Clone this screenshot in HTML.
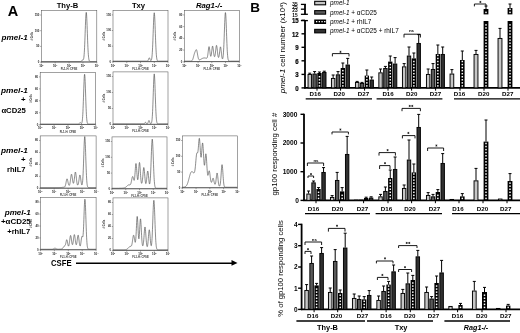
<!DOCTYPE html><html><head><meta charset="utf-8"><style>html,body{margin:0;padding:0;background:#fff}svg{display:block;filter:grayscale(1) blur(0.3px);font-family:"Liberation Sans",sans-serif}</style></head><body>
<svg width="520" height="333" viewBox="0 0 520 333">
<defs><pattern id="pdot" width="2.4" height="2.4" patternUnits="userSpaceOnUse"><rect width="2.4" height="2.4" fill="#000"/><rect x="0.6" y="0.6" width="1.2" height="1.2" fill="#fff"/></pattern></defs>
<rect width="520" height="333" fill="#fff"/>
<rect x="41.30" y="10.40" width="55.50" height="51.70" fill="none" stroke="#555" stroke-width="0.55"/>
<path d="M41.30,61.48 L41.44,61.48 L41.58,61.48 L41.72,61.48 L41.85,61.48 L41.99,61.48 L42.13,61.48 L42.27,61.48 L42.41,61.48 L42.55,61.48 L42.69,61.48 L42.83,61.48 L42.96,61.48 L43.10,61.48 L43.24,61.48 L43.38,61.48 L43.52,61.48 L43.66,61.48 L43.80,61.48 L43.94,61.48 L44.07,61.48 L44.21,61.48 L44.35,61.48 L44.49,61.48 L44.63,61.48 L44.77,61.48 L44.91,61.48 L45.05,61.48 L45.18,61.48 L45.32,61.48 L45.46,61.48 L45.60,61.48 L45.74,61.48 L45.88,61.48 L46.02,61.48 L46.16,61.48 L46.29,61.48 L46.43,61.48 L46.57,61.48 L46.71,61.48 L46.85,61.48 L46.99,61.48 L47.13,61.48 L47.27,61.48 L47.41,61.48 L47.54,61.48 L47.68,61.48 L47.82,61.48 L47.96,61.48 L48.10,61.48 L48.24,61.48 L48.38,61.48 L48.52,61.48 L48.65,61.48 L48.79,61.48 L48.93,61.48 L49.07,61.48 L49.21,61.48 L49.35,61.48 L49.49,61.48 L49.62,61.48 L49.76,61.48 L49.90,61.48 L50.04,61.48 L50.18,61.48 L50.32,61.48 L50.46,61.48 L50.60,61.48 L50.73,61.48 L50.87,61.48 L51.01,61.48 L51.15,61.48 L51.29,61.48 L51.43,61.48 L51.57,61.48 L51.71,61.48 L51.84,61.48 L51.98,61.48 L52.12,61.48 L52.26,61.48 L52.40,61.48 L52.54,61.48 L52.68,61.48 L52.82,61.48 L52.95,61.48 L53.09,61.48 L53.23,61.48 L53.37,61.48 L53.51,61.48 L53.65,61.48 L53.79,61.48 L53.93,61.48 L54.06,61.48 L54.20,61.48 L54.34,61.48 L54.48,61.48 L54.62,61.48 L54.76,61.48 L54.90,61.48 L55.04,61.48 L55.17,61.48 L55.31,61.48 L55.45,61.48 L55.59,61.48 L55.73,61.48 L55.87,61.48 L56.01,61.48 L56.15,61.48 L56.28,61.48 L56.42,61.48 L56.56,61.48 L56.70,61.48 L56.84,61.48 L56.98,61.48 L57.12,61.48 L57.26,61.48 L57.39,61.48 L57.53,61.48 L57.67,61.48 L57.81,61.48 L57.95,61.48 L58.09,61.48 L58.23,61.48 L58.37,61.48 L58.50,61.48 L58.64,61.48 L58.78,61.48 L58.92,61.48 L59.06,61.48 L59.20,61.48 L59.34,61.48 L59.48,61.48 L59.61,61.48 L59.75,61.48 L59.89,61.48 L60.03,61.48 L60.17,61.48 L60.31,61.48 L60.45,61.48 L60.59,61.48 L60.72,61.48 L60.86,61.48 L61.00,61.48 L61.14,61.48 L61.28,61.48 L61.42,61.48 L61.56,61.48 L61.70,61.48 L61.83,61.48 L61.97,61.48 L62.11,61.48 L62.25,61.48 L62.39,61.48 L62.53,61.48 L62.67,61.48 L62.81,61.48 L62.94,61.48 L63.08,61.48 L63.22,61.48 L63.36,61.48 L63.50,61.48 L63.64,61.48 L63.78,61.48 L63.92,61.48 L64.05,61.48 L64.19,61.48 L64.33,61.48 L64.47,61.48 L64.61,61.48 L64.75,61.48 L64.89,61.48 L65.03,61.48 L65.16,61.48 L65.30,61.48 L65.44,61.48 L65.58,61.48 L65.72,61.48 L65.86,61.48 L66.00,61.48 L66.14,61.48 L66.28,61.48 L66.41,61.48 L66.55,61.48 L66.69,61.48 L66.83,61.48 L66.97,61.48 L67.11,61.48 L67.25,61.48 L67.38,61.48 L67.52,61.48 L67.66,61.48 L67.80,61.48 L67.94,61.48 L68.08,61.48 L68.22,61.48 L68.36,61.48 L68.50,61.48 L68.63,61.48 L68.77,61.48 L68.91,61.48 L69.05,61.48 L69.19,61.48 L69.33,61.48 L69.47,61.48 L69.60,61.48 L69.74,61.48 L69.88,61.48 L70.02,61.48 L70.16,61.48 L70.30,61.48 L70.44,61.48 L70.58,61.48 L70.72,61.48 L70.85,61.48 L70.99,61.48 L71.13,61.48 L71.27,61.48 L71.41,61.48 L71.55,61.48 L71.69,61.48 L71.83,61.48 L71.96,61.48 L72.10,61.48 L72.24,61.48 L72.38,61.48 L72.52,61.48 L72.66,61.48 L72.80,61.48 L72.94,61.48 L73.07,61.48 L73.21,61.48 L73.35,61.48 L73.49,61.48 L73.63,61.48 L73.77,61.48 L73.91,61.48 L74.04,61.48 L74.18,61.48 L74.32,61.48 L74.46,61.48 L74.60,61.48 L74.74,61.48 L74.88,61.48 L75.02,61.48 L75.16,61.48 L75.29,61.48 L75.43,61.48 L75.57,61.48 L75.71,61.48 L75.85,61.48 L75.99,61.48 L76.13,61.48 L76.27,61.48 L76.40,61.48 L76.54,61.48 L76.68,61.48 L76.82,61.48 L76.96,61.48 L77.10,61.48 L77.24,61.48 L77.38,61.48 L77.51,61.48 L77.65,61.48 L77.79,61.48 L77.93,61.48 L78.07,61.48 L78.21,61.48 L78.35,61.48 L78.48,61.48 L78.62,61.48 L78.76,61.48 L78.90,61.48 L79.04,61.48 L79.18,61.48 L79.32,61.48 L79.46,61.48 L79.59,61.48 L79.73,61.48 L79.87,61.48 L80.01,61.48 L80.15,61.48 L80.29,61.48 L80.43,61.48 L80.57,61.47 L80.70,61.47 L80.84,61.46 L80.98,61.44 L81.12,61.41 L81.26,61.36 L81.40,61.29 L81.54,61.18 L81.68,61.04 L81.81,60.86 L81.95,60.65 L82.09,60.43 L82.23,60.22 L82.37,60.03 L82.51,59.88 L82.65,59.79 L82.79,59.75 L82.92,59.75 L83.06,59.75 L83.20,59.71 L83.34,59.59 L83.48,59.33 L83.62,58.88 L83.76,58.21 L83.90,57.26 L84.03,56.01 L84.17,54.41 L84.31,52.44 L84.45,50.09 L84.59,47.35 L84.73,44.24 L84.87,40.81 L85.01,37.12 L85.14,33.26 L85.28,29.34 L85.42,25.52 L85.56,21.92 L85.70,18.72 L85.84,16.05 L85.98,14.04 L86.12,12.79 L86.25,12.36 L86.39,12.79 L86.53,14.04 L86.67,16.05 L86.81,18.72 L86.95,21.92 L87.09,25.52 L87.23,29.34 L87.36,33.26 L87.50,37.12 L87.64,40.81 L87.78,44.25 L87.92,47.36 L88.06,50.11 L88.20,52.48 L88.34,54.48 L88.47,56.12 L88.61,57.45 L88.75,58.51 L88.89,59.32 L89.03,59.94 L89.17,60.40 L89.31,60.74 L89.45,60.98 L89.58,61.14 L89.72,61.26 L89.86,61.34 L90.00,61.39 L90.14,61.42 L90.28,61.45 L90.42,61.46 L90.56,61.47 L90.69,61.47 L90.83,61.48 L90.97,61.48 L91.11,61.48 L91.25,61.48 L91.39,61.48 L91.53,61.48 L91.67,61.48 L91.81,61.48 L91.94,61.48 L92.08,61.48 L92.22,61.48 L92.36,61.48 L92.50,61.48 L92.64,61.48 L92.78,61.48 L92.91,61.48 L93.05,61.48 L93.19,61.48 L93.33,61.48 L93.47,61.48 L93.61,61.48 L93.75,61.48 L93.89,61.48 L94.02,61.48 L94.16,61.48 L94.30,61.48 L94.44,61.48 L94.58,61.48 L94.72,61.48 L94.86,61.48 L95.00,61.48 L95.13,61.48 L95.27,61.48 L95.41,61.48 L95.55,61.48 L95.69,61.48 L95.83,61.48 L95.97,61.48 L96.11,61.48 L96.25,61.48 L96.38,61.48 L96.52,61.48 L96.66,61.48 L96.80,61.48" fill="none" stroke="#444" stroke-width="0.62" stroke-linejoin="round"/>
<line x1="41.30" y1="61.85" x2="96.80" y2="61.85" stroke="#555" stroke-width="0.8"/>
<line x1="41.30" y1="62.10" x2="41.30" y2="63.40" stroke="#555" stroke-width="0.5"/>
<text x="41.30" y="66.80" font-size="2.9" font-weight="bold" text-anchor="middle" fill="#222">10<tspan dy="-1" font-size="2">0</tspan></text>
<line x1="55.17" y1="62.10" x2="55.17" y2="63.40" stroke="#555" stroke-width="0.5"/>
<text x="55.17" y="66.80" font-size="2.9" font-weight="bold" text-anchor="middle" fill="#222">10<tspan dy="-1" font-size="2">1</tspan></text>
<line x1="69.05" y1="62.10" x2="69.05" y2="63.40" stroke="#555" stroke-width="0.5"/>
<text x="69.05" y="66.80" font-size="2.9" font-weight="bold" text-anchor="middle" fill="#222">10<tspan dy="-1" font-size="2">2</tspan></text>
<line x1="82.92" y1="62.10" x2="82.92" y2="63.40" stroke="#555" stroke-width="0.5"/>
<text x="82.92" y="66.80" font-size="2.9" font-weight="bold" text-anchor="middle" fill="#222">10<tspan dy="-1" font-size="2">3</tspan></text>
<line x1="96.80" y1="62.10" x2="96.80" y2="63.40" stroke="#555" stroke-width="0.5"/>
<text x="96.80" y="66.80" font-size="2.9" font-weight="bold" text-anchor="middle" fill="#222">10<tspan dy="-1" font-size="2">4</tspan></text>
<text x="69.05" y="69.90" font-size="2.7" font-weight="bold" text-anchor="middle" fill="#333">FL1-H: CFSE</text>
<line x1="40.10" y1="62.10" x2="41.30" y2="62.10" stroke="#555" stroke-width="0.5"/>
<text x="39.30" y="63.00" font-size="2.8" font-weight="bold" text-anchor="end" fill="#222">0</text>
<line x1="40.10" y1="46.40" x2="41.30" y2="46.40" stroke="#555" stroke-width="0.5"/>
<text x="39.30" y="47.30" font-size="2.8" font-weight="bold" text-anchor="end" fill="#222">50</text>
<line x1="40.10" y1="30.70" x2="41.30" y2="30.70" stroke="#555" stroke-width="0.5"/>
<text x="39.30" y="31.60" font-size="2.8" font-weight="bold" text-anchor="end" fill="#222">100</text>
<line x1="40.10" y1="15.00" x2="41.30" y2="15.00" stroke="#555" stroke-width="0.5"/>
<text x="39.30" y="15.90" font-size="2.8" font-weight="bold" text-anchor="end" fill="#222">150</text>
<text transform="translate(33.10,36.25) rotate(-90)" font-size="2.7" font-weight="bold" text-anchor="middle" fill="#333"># Cells</text>
<rect x="113.00" y="10.30" width="55.00" height="51.50" fill="none" stroke="#555" stroke-width="0.55"/>
<path d="M113.00,61.18 L113.14,61.18 L113.28,61.18 L113.41,61.18 L113.55,61.18 L113.69,61.18 L113.83,61.18 L113.96,61.18 L114.10,61.18 L114.24,61.18 L114.38,61.18 L114.51,61.18 L114.65,61.18 L114.79,61.18 L114.92,61.18 L115.06,61.18 L115.20,61.18 L115.34,61.18 L115.47,61.18 L115.61,61.18 L115.75,61.18 L115.89,61.18 L116.03,61.18 L116.16,61.18 L116.30,61.18 L116.44,61.18 L116.58,61.18 L116.71,61.18 L116.85,61.18 L116.99,61.18 L117.12,61.18 L117.26,61.18 L117.40,61.18 L117.54,61.18 L117.67,61.18 L117.81,61.18 L117.95,61.18 L118.09,61.18 L118.22,61.18 L118.36,61.18 L118.50,61.18 L118.64,61.18 L118.78,61.18 L118.91,61.18 L119.05,61.18 L119.19,61.18 L119.33,61.18 L119.46,61.18 L119.60,61.18 L119.74,61.18 L119.88,61.18 L120.01,61.18 L120.15,61.18 L120.29,61.18 L120.42,61.18 L120.56,61.18 L120.70,61.18 L120.84,61.18 L120.97,61.18 L121.11,61.18 L121.25,61.18 L121.39,61.18 L121.53,61.18 L121.66,61.18 L121.80,61.18 L121.94,61.18 L122.08,61.18 L122.21,61.18 L122.35,61.18 L122.49,61.18 L122.62,61.18 L122.76,61.18 L122.90,61.18 L123.04,61.18 L123.17,61.18 L123.31,61.18 L123.45,61.18 L123.59,61.18 L123.72,61.18 L123.86,61.18 L124.00,61.18 L124.14,61.18 L124.28,61.18 L124.41,61.18 L124.55,61.18 L124.69,61.18 L124.83,61.18 L124.96,61.18 L125.10,61.18 L125.24,61.18 L125.38,61.18 L125.51,61.18 L125.65,61.18 L125.79,61.18 L125.92,61.18 L126.06,61.18 L126.20,61.18 L126.34,61.18 L126.47,61.18 L126.61,61.18 L126.75,61.18 L126.89,61.18 L127.03,61.18 L127.16,61.18 L127.30,61.18 L127.44,61.18 L127.58,61.18 L127.71,61.18 L127.85,61.18 L127.99,61.18 L128.12,61.18 L128.26,61.18 L128.40,61.18 L128.54,61.18 L128.68,61.18 L128.81,61.18 L128.95,61.18 L129.09,61.18 L129.22,61.18 L129.36,61.18 L129.50,61.18 L129.64,61.18 L129.78,61.18 L129.91,61.18 L130.05,61.18 L130.19,61.18 L130.32,61.18 L130.46,61.18 L130.60,61.18 L130.74,61.18 L130.88,61.18 L131.01,61.18 L131.15,61.18 L131.29,61.18 L131.43,61.18 L131.56,61.18 L131.70,61.18 L131.84,61.18 L131.97,61.18 L132.11,61.18 L132.25,61.18 L132.39,61.18 L132.53,61.18 L132.66,61.18 L132.80,61.18 L132.94,61.18 L133.07,61.18 L133.21,61.18 L133.35,61.18 L133.49,61.18 L133.62,61.18 L133.76,61.18 L133.90,61.18 L134.04,61.18 L134.18,61.18 L134.31,61.18 L134.45,61.18 L134.59,61.18 L134.72,61.18 L134.86,61.18 L135.00,61.18 L135.14,61.18 L135.28,61.18 L135.41,61.18 L135.55,61.18 L135.69,61.18 L135.82,61.18 L135.96,61.18 L136.10,61.18 L136.24,61.18 L136.38,61.18 L136.51,61.18 L136.65,61.18 L136.79,61.18 L136.93,61.18 L137.06,61.18 L137.20,61.18 L137.34,61.18 L137.47,61.18 L137.61,61.18 L137.75,61.18 L137.89,61.18 L138.03,61.18 L138.16,61.18 L138.30,61.18 L138.44,61.18 L138.57,61.18 L138.71,61.18 L138.85,61.18 L138.99,61.18 L139.12,61.18 L139.26,61.18 L139.40,61.18 L139.54,61.18 L139.68,61.18 L139.81,61.18 L139.95,61.18 L140.09,61.18 L140.22,61.18 L140.36,61.18 L140.50,61.18 L140.64,61.18 L140.78,61.18 L140.91,61.18 L141.05,61.18 L141.19,61.18 L141.32,61.18 L141.46,61.18 L141.60,61.18 L141.74,61.18 L141.88,61.18 L142.01,61.18 L142.15,61.18 L142.29,61.18 L142.43,61.18 L142.56,61.18 L142.70,61.18 L142.84,61.18 L142.97,61.18 L143.11,61.18 L143.25,61.18 L143.39,61.18 L143.53,61.18 L143.66,61.18 L143.80,61.18 L143.94,61.18 L144.07,61.18 L144.21,61.18 L144.35,61.18 L144.49,61.18 L144.62,61.18 L144.76,61.18 L144.90,61.18 L145.04,61.18 L145.18,61.18 L145.31,61.18 L145.45,61.18 L145.59,61.18 L145.72,61.18 L145.86,61.18 L146.00,61.18 L146.14,61.18 L146.28,61.18 L146.41,61.18 L146.55,61.18 L146.69,61.18 L146.82,61.17 L146.96,61.17 L147.10,61.15 L147.24,61.13 L147.38,61.09 L147.51,61.03 L147.65,60.95 L147.79,60.82 L147.93,60.66 L148.06,60.43 L148.20,60.16 L148.34,59.83 L148.47,59.46 L148.61,59.07 L148.75,58.69 L148.89,58.35 L149.03,58.07 L149.16,57.90 L149.30,57.83 L149.44,57.89 L149.57,58.07 L149.71,58.34 L149.85,58.68 L149.99,59.06 L150.12,59.44 L150.26,59.80 L150.40,60.10 L150.54,60.35 L150.68,60.52 L150.81,60.61 L150.95,60.62 L151.09,60.54 L151.22,60.36 L151.36,60.07 L151.50,59.64 L151.64,59.04 L151.78,58.24 L151.91,57.21 L152.05,55.90 L152.19,54.28 L152.32,52.31 L152.46,49.97 L152.60,47.26 L152.74,44.20 L152.88,40.81 L153.01,37.17 L153.15,33.36 L153.29,29.51 L153.43,25.73 L153.56,22.19 L153.70,19.03 L153.84,16.40 L153.97,14.42 L154.11,13.19 L154.25,12.77 L154.39,13.19 L154.53,14.42 L154.66,16.40 L154.80,19.03 L154.94,22.19 L155.07,25.73 L155.21,29.51 L155.35,33.36 L155.49,37.17 L155.62,40.81 L155.76,44.20 L155.90,47.26 L156.04,49.97 L156.18,52.31 L156.31,54.28 L156.45,55.90 L156.59,57.22 L156.72,58.25 L156.86,59.06 L157.00,59.66 L157.14,60.12 L157.28,60.45 L157.41,60.69 L157.55,60.85 L157.69,60.97 L157.82,61.04 L157.96,61.09 L158.10,61.13 L158.24,61.15 L158.38,61.16 L158.51,61.17 L158.65,61.18 L158.79,61.18 L158.93,61.18 L159.06,61.18 L159.20,61.18 L159.34,61.18 L159.47,61.18 L159.61,61.18 L159.75,61.18 L159.89,61.18 L160.03,61.18 L160.16,61.18 L160.30,61.18 L160.44,61.18 L160.57,61.18 L160.71,61.18 L160.85,61.18 L160.99,61.18 L161.12,61.18 L161.26,61.18 L161.40,61.18 L161.54,61.18 L161.68,61.18 L161.81,61.18 L161.95,61.18 L162.09,61.18 L162.22,61.18 L162.36,61.18 L162.50,61.18 L162.64,61.18 L162.78,61.18 L162.91,61.18 L163.05,61.18 L163.19,61.18 L163.32,61.18 L163.46,61.18 L163.60,61.18 L163.74,61.18 L163.88,61.18 L164.01,61.18 L164.15,61.18 L164.29,61.18 L164.43,61.18 L164.56,61.18 L164.70,61.18 L164.84,61.18 L164.97,61.18 L165.11,61.18 L165.25,61.18 L165.39,61.18 L165.53,61.18 L165.66,61.18 L165.80,61.18 L165.94,61.18 L166.07,61.18 L166.21,61.18 L166.35,61.18 L166.49,61.18 L166.62,61.18 L166.76,61.18 L166.90,61.18 L167.04,61.18 L167.18,61.18 L167.31,61.18 L167.45,61.18 L167.59,61.18 L167.72,61.18 L167.86,61.18 L168.00,61.18" fill="none" stroke="#444" stroke-width="0.62" stroke-linejoin="round"/>
<line x1="113.00" y1="61.55" x2="168.00" y2="61.55" stroke="#555" stroke-width="0.8"/>
<line x1="113.00" y1="61.80" x2="113.00" y2="63.10" stroke="#555" stroke-width="0.5"/>
<text x="113.00" y="66.50" font-size="2.9" font-weight="bold" text-anchor="middle" fill="#222">10<tspan dy="-1" font-size="2">0</tspan></text>
<line x1="126.75" y1="61.80" x2="126.75" y2="63.10" stroke="#555" stroke-width="0.5"/>
<text x="126.75" y="66.50" font-size="2.9" font-weight="bold" text-anchor="middle" fill="#222">10<tspan dy="-1" font-size="2">1</tspan></text>
<line x1="140.50" y1="61.80" x2="140.50" y2="63.10" stroke="#555" stroke-width="0.5"/>
<text x="140.50" y="66.50" font-size="2.9" font-weight="bold" text-anchor="middle" fill="#222">10<tspan dy="-1" font-size="2">2</tspan></text>
<line x1="154.25" y1="61.80" x2="154.25" y2="63.10" stroke="#555" stroke-width="0.5"/>
<text x="154.25" y="66.50" font-size="2.9" font-weight="bold" text-anchor="middle" fill="#222">10<tspan dy="-1" font-size="2">3</tspan></text>
<line x1="168.00" y1="61.80" x2="168.00" y2="63.10" stroke="#555" stroke-width="0.5"/>
<text x="168.00" y="66.50" font-size="2.9" font-weight="bold" text-anchor="middle" fill="#222">10<tspan dy="-1" font-size="2">4</tspan></text>
<text x="140.50" y="69.60" font-size="2.7" font-weight="bold" text-anchor="middle" fill="#333">FL1-H: CFSE</text>
<line x1="111.80" y1="61.80" x2="113.00" y2="61.80" stroke="#555" stroke-width="0.5"/>
<text x="111.00" y="62.70" font-size="2.8" font-weight="bold" text-anchor="end" fill="#222">0</text>
<line x1="111.80" y1="46.17" x2="113.00" y2="46.17" stroke="#555" stroke-width="0.5"/>
<text x="111.00" y="47.07" font-size="2.8" font-weight="bold" text-anchor="end" fill="#222">50</text>
<line x1="111.80" y1="30.53" x2="113.00" y2="30.53" stroke="#555" stroke-width="0.5"/>
<text x="111.00" y="31.43" font-size="2.8" font-weight="bold" text-anchor="end" fill="#222">100</text>
<line x1="111.80" y1="14.90" x2="113.00" y2="14.90" stroke="#555" stroke-width="0.5"/>
<text x="111.00" y="15.80" font-size="2.8" font-weight="bold" text-anchor="end" fill="#222">150</text>
<text transform="translate(104.80,36.05) rotate(-90)" font-size="2.7" font-weight="bold" text-anchor="middle" fill="#333"># Cells</text>
<rect x="184.30" y="10.30" width="55.00" height="51.50" fill="none" stroke="#555" stroke-width="0.55"/>
<path d="M184.30,61.18 L184.44,61.18 L184.58,61.18 L184.71,61.18 L184.85,61.18 L184.99,61.18 L185.12,61.18 L185.26,61.18 L185.40,61.18 L185.54,61.18 L185.68,61.18 L185.81,61.18 L185.95,61.18 L186.09,61.18 L186.23,61.18 L186.36,61.18 L186.50,61.18 L186.64,61.18 L186.78,61.18 L186.91,61.18 L187.05,61.18 L187.19,61.18 L187.33,61.18 L187.46,61.18 L187.60,61.18 L187.74,61.18 L187.88,61.18 L188.01,61.18 L188.15,61.18 L188.29,61.18 L188.43,61.18 L188.56,61.18 L188.70,61.18 L188.84,61.18 L188.98,61.18 L189.11,61.18 L189.25,61.18 L189.39,61.18 L189.53,61.18 L189.66,61.18 L189.80,61.18 L189.94,61.18 L190.08,61.18 L190.21,61.18 L190.35,61.17 L190.49,61.17 L190.62,61.16 L190.76,61.15 L190.90,61.14 L191.04,61.12 L191.18,61.09 L191.31,61.05 L191.45,61.01 L191.59,60.94 L191.73,60.86 L191.86,60.76 L192.00,60.63 L192.14,60.48 L192.28,60.29 L192.41,60.06 L192.55,59.79 L192.69,59.48 L192.83,59.13 L192.96,58.74 L193.10,58.31 L193.24,57.85 L193.38,57.35 L193.51,56.84 L193.65,56.31 L193.79,55.78 L193.93,55.26 L194.06,54.75 L194.20,54.26 L194.34,53.80 L194.48,53.37 L194.61,52.97 L194.75,52.59 L194.89,52.24 L195.03,51.90 L195.16,51.57 L195.30,51.25 L195.44,50.94 L195.58,50.63 L195.71,50.35 L195.85,50.09 L195.99,49.88 L196.12,49.73 L196.26,49.67 L196.40,49.71 L196.54,49.87 L196.68,50.15 L196.81,50.55 L196.95,51.08 L197.09,51.72 L197.23,52.44 L197.36,53.22 L197.50,54.03 L197.64,54.85 L197.78,55.65 L197.91,56.40 L198.05,57.09 L198.19,57.71 L198.33,58.24 L198.46,58.68 L198.60,59.04 L198.74,59.32 L198.88,59.53 L199.01,59.68 L199.15,59.78 L199.29,59.83 L199.43,59.85 L199.56,59.85 L199.70,59.82 L199.84,59.78 L199.98,59.72 L200.11,59.66 L200.25,59.59 L200.39,59.52 L200.53,59.45 L200.66,59.37 L200.80,59.29 L200.94,59.21 L201.08,59.13 L201.21,59.05 L201.35,58.97 L201.49,58.90 L201.62,58.82 L201.76,58.75 L201.90,58.67 L202.04,58.60 L202.18,58.53 L202.31,58.47 L202.45,58.41 L202.59,58.35 L202.73,58.29 L202.86,58.24 L203.00,58.19 L203.14,58.14 L203.28,58.10 L203.41,58.07 L203.55,58.04 L203.69,58.01 L203.83,57.99 L203.96,57.97 L204.10,57.96 L204.24,57.95 L204.38,57.94 L204.51,57.95 L204.65,57.95 L204.79,57.96 L204.93,57.97 L205.06,57.99 L205.20,58.01 L205.34,58.04 L205.48,58.07 L205.61,58.10 L205.75,58.13 L205.89,58.16 L206.03,58.19 L206.16,58.22 L206.30,58.24 L206.44,58.25 L206.58,58.24 L206.71,58.20 L206.85,58.11 L206.99,57.97 L207.12,57.74 L207.26,57.42 L207.40,56.97 L207.54,56.38 L207.68,55.64 L207.81,54.74 L207.95,53.71 L208.09,52.57 L208.23,51.36 L208.36,50.15 L208.50,49.01 L208.64,48.02 L208.78,47.26 L208.91,46.78 L209.05,46.62 L209.19,46.80 L209.33,47.30 L209.46,48.08 L209.60,49.08 L209.74,50.23 L209.88,51.43 L210.01,52.62 L210.15,53.72 L210.29,54.67 L210.43,55.43 L210.56,55.97 L210.70,56.27 L210.84,56.32 L210.98,56.12 L211.11,55.67 L211.25,54.99 L211.39,54.10 L211.53,53.04 L211.66,51.85 L211.80,50.60 L211.94,49.37 L212.08,48.24 L212.21,47.28 L212.35,46.57 L212.49,46.17 L212.62,46.10 L212.76,46.37 L212.90,46.96 L213.04,47.81 L213.18,48.85 L213.31,50.02 L213.45,51.24 L213.59,52.42 L213.73,53.52 L213.86,54.48 L214.00,55.28 L214.14,55.91 L214.28,56.35 L214.41,56.61 L214.55,56.68 L214.69,56.57 L214.83,56.27 L214.96,55.78 L215.10,55.10 L215.24,54.24 L215.38,53.22 L215.51,52.06 L215.65,50.81 L215.79,49.53 L215.93,48.30 L216.06,47.19 L216.20,46.30 L216.34,45.68 L216.48,45.39 L216.61,45.46 L216.75,45.87 L216.89,46.61 L217.03,47.62 L217.16,48.81 L217.30,50.12 L217.44,51.45 L217.58,52.75 L217.71,53.94 L217.85,54.98 L217.99,55.86 L218.12,56.54 L218.26,57.04 L218.40,57.34 L218.54,57.46 L218.68,57.38 L218.81,57.11 L218.95,56.65 L219.09,55.99 L219.23,55.15 L219.36,54.15 L219.50,53.02 L219.64,51.81 L219.78,50.58 L219.91,49.40 L220.05,48.37 L220.19,47.56 L220.33,47.03 L220.46,46.84 L220.60,47.01 L220.74,47.51 L220.88,48.33 L221.01,49.39 L221.15,50.62 L221.29,51.95 L221.43,53.28 L221.56,54.55 L221.70,55.71 L221.84,56.71 L221.98,57.52 L222.11,58.15 L222.25,58.58 L222.39,58.80 L222.53,58.83 L222.66,58.66 L222.80,58.27 L222.94,57.64 L223.08,56.75 L223.21,55.57 L223.35,54.07 L223.49,52.21 L223.62,49.99 L223.76,47.39 L223.90,44.42 L224.04,41.12 L224.18,37.55 L224.31,33.79 L224.45,29.95 L224.59,26.17 L224.73,22.59 L224.86,19.36 L225.00,16.63 L225.14,14.53 L225.28,13.16 L225.41,12.59 L225.55,12.86 L225.69,13.94 L225.83,15.79 L225.96,18.31 L226.10,21.39 L226.24,24.88 L226.38,28.62 L226.51,32.49 L226.65,36.32 L226.79,40.01 L226.93,43.46 L227.06,46.60 L227.20,49.39 L227.34,51.81 L227.48,53.85 L227.61,55.55 L227.75,56.93 L227.89,58.02 L228.03,58.87 L228.16,59.52 L228.30,60.00 L228.44,60.36 L228.58,60.62 L228.71,60.80 L228.85,60.92 L228.99,61.01 L229.12,61.07 L229.26,61.10 L229.40,61.13 L229.54,61.15 L229.68,61.16 L229.81,61.16 L229.95,61.17 L230.09,61.17 L230.23,61.17 L230.36,61.17 L230.50,61.17 L230.64,61.18 L230.78,61.18 L230.91,61.18 L231.05,61.18 L231.19,61.18 L231.33,61.18 L231.46,61.18 L231.60,61.18 L231.74,61.18 L231.88,61.18 L232.01,61.18 L232.15,61.18 L232.29,61.18 L232.43,61.18 L232.56,61.18 L232.70,61.18 L232.84,61.18 L232.98,61.18 L233.11,61.18 L233.25,61.18 L233.39,61.18 L233.53,61.18 L233.66,61.18 L233.80,61.18 L233.94,61.18 L234.08,61.18 L234.21,61.18 L234.35,61.18 L234.49,61.18 L234.62,61.18 L234.76,61.18 L234.90,61.18 L235.04,61.18 L235.18,61.18 L235.31,61.18 L235.45,61.18 L235.59,61.18 L235.73,61.18 L235.86,61.18 L236.00,61.18 L236.14,61.18 L236.28,61.18 L236.41,61.18 L236.55,61.18 L236.69,61.18 L236.83,61.18 L236.96,61.18 L237.10,61.18 L237.24,61.18 L237.38,61.18 L237.51,61.18 L237.65,61.18 L237.79,61.18 L237.93,61.18 L238.06,61.18 L238.20,61.18 L238.34,61.18 L238.48,61.18 L238.61,61.18 L238.75,61.18 L238.89,61.18 L239.03,61.18 L239.16,61.18 L239.30,61.18" fill="none" stroke="#444" stroke-width="0.62" stroke-linejoin="round"/>
<line x1="184.30" y1="61.55" x2="239.30" y2="61.55" stroke="#555" stroke-width="0.8"/>
<line x1="184.30" y1="61.80" x2="184.30" y2="63.10" stroke="#555" stroke-width="0.5"/>
<text x="184.30" y="66.50" font-size="2.9" font-weight="bold" text-anchor="middle" fill="#222">10<tspan dy="-1" font-size="2">0</tspan></text>
<line x1="198.05" y1="61.80" x2="198.05" y2="63.10" stroke="#555" stroke-width="0.5"/>
<text x="198.05" y="66.50" font-size="2.9" font-weight="bold" text-anchor="middle" fill="#222">10<tspan dy="-1" font-size="2">1</tspan></text>
<line x1="211.80" y1="61.80" x2="211.80" y2="63.10" stroke="#555" stroke-width="0.5"/>
<text x="211.80" y="66.50" font-size="2.9" font-weight="bold" text-anchor="middle" fill="#222">10<tspan dy="-1" font-size="2">2</tspan></text>
<line x1="225.55" y1="61.80" x2="225.55" y2="63.10" stroke="#555" stroke-width="0.5"/>
<text x="225.55" y="66.50" font-size="2.9" font-weight="bold" text-anchor="middle" fill="#222">10<tspan dy="-1" font-size="2">3</tspan></text>
<line x1="239.30" y1="61.80" x2="239.30" y2="63.10" stroke="#555" stroke-width="0.5"/>
<text x="239.30" y="66.50" font-size="2.9" font-weight="bold" text-anchor="middle" fill="#222">10<tspan dy="-1" font-size="2">4</tspan></text>
<text x="211.80" y="69.60" font-size="2.7" font-weight="bold" text-anchor="middle" fill="#333">FL1-H: CFSE</text>
<line x1="183.10" y1="61.80" x2="184.30" y2="61.80" stroke="#555" stroke-width="0.5"/>
<text x="182.30" y="62.70" font-size="2.8" font-weight="bold" text-anchor="end" fill="#222">0</text>
<line x1="183.10" y1="50.07" x2="184.30" y2="50.07" stroke="#555" stroke-width="0.5"/>
<text x="182.30" y="50.97" font-size="2.8" font-weight="bold" text-anchor="end" fill="#222">20</text>
<line x1="183.10" y1="38.35" x2="184.30" y2="38.35" stroke="#555" stroke-width="0.5"/>
<text x="182.30" y="39.25" font-size="2.8" font-weight="bold" text-anchor="end" fill="#222">40</text>
<line x1="183.10" y1="26.62" x2="184.30" y2="26.62" stroke="#555" stroke-width="0.5"/>
<text x="182.30" y="27.52" font-size="2.8" font-weight="bold" text-anchor="end" fill="#222">60</text>
<line x1="183.10" y1="14.90" x2="184.30" y2="14.90" stroke="#555" stroke-width="0.5"/>
<text x="182.30" y="15.80" font-size="2.8" font-weight="bold" text-anchor="end" fill="#222">80</text>
<text transform="translate(176.10,36.05) rotate(-90)" font-size="2.7" font-weight="bold" text-anchor="middle" fill="#333"># Cells</text>
<rect x="40.20" y="72.30" width="55.50" height="52.40" fill="none" stroke="#555" stroke-width="0.55"/>
<path d="M40.20,124.07 L40.34,124.07 L40.48,124.07 L40.62,124.07 L40.76,124.07 L40.89,124.07 L41.03,124.07 L41.17,124.07 L41.31,124.07 L41.45,124.07 L41.59,124.07 L41.73,124.07 L41.87,124.07 L42.00,124.07 L42.14,124.07 L42.28,124.07 L42.42,124.07 L42.56,124.07 L42.70,124.07 L42.84,124.07 L42.98,124.07 L43.11,124.07 L43.25,124.07 L43.39,124.07 L43.53,124.07 L43.67,124.07 L43.81,124.07 L43.95,124.07 L44.09,124.07 L44.22,124.07 L44.36,124.07 L44.50,124.07 L44.64,124.07 L44.78,124.07 L44.92,124.07 L45.06,124.07 L45.20,124.07 L45.33,124.07 L45.47,124.07 L45.61,124.07 L45.75,124.07 L45.89,124.07 L46.03,124.07 L46.17,124.07 L46.31,124.07 L46.44,124.07 L46.58,124.07 L46.72,124.07 L46.86,124.07 L47.00,124.07 L47.14,124.07 L47.28,124.07 L47.42,124.07 L47.55,124.07 L47.69,124.07 L47.83,124.07 L47.97,124.07 L48.11,124.07 L48.25,124.07 L48.39,124.07 L48.53,124.07 L48.66,124.07 L48.80,124.07 L48.94,124.07 L49.08,124.07 L49.22,124.07 L49.36,124.07 L49.50,124.07 L49.64,124.07 L49.77,124.07 L49.91,124.07 L50.05,124.07 L50.19,124.07 L50.33,124.07 L50.47,124.07 L50.61,124.07 L50.75,124.07 L50.88,124.07 L51.02,124.07 L51.16,124.07 L51.30,124.07 L51.44,124.07 L51.58,124.07 L51.72,124.07 L51.86,124.07 L51.99,124.07 L52.13,124.07 L52.27,124.07 L52.41,124.07 L52.55,124.07 L52.69,124.07 L52.83,124.07 L52.97,124.07 L53.10,124.07 L53.24,124.07 L53.38,124.07 L53.52,124.07 L53.66,124.07 L53.80,124.07 L53.94,124.07 L54.08,124.07 L54.21,124.07 L54.35,124.07 L54.49,124.07 L54.63,124.07 L54.77,124.07 L54.91,124.07 L55.05,124.07 L55.19,124.07 L55.32,124.07 L55.46,124.07 L55.60,124.07 L55.74,124.07 L55.88,124.07 L56.02,124.07 L56.16,124.07 L56.30,124.07 L56.43,124.07 L56.57,124.07 L56.71,124.07 L56.85,124.07 L56.99,124.07 L57.13,124.07 L57.27,124.07 L57.41,124.07 L57.54,124.07 L57.68,124.07 L57.82,124.07 L57.96,124.07 L58.10,124.07 L58.24,124.07 L58.38,124.07 L58.52,124.07 L58.65,124.07 L58.79,124.07 L58.93,124.07 L59.07,124.07 L59.21,124.07 L59.35,124.07 L59.49,124.07 L59.62,124.07 L59.76,124.07 L59.90,124.07 L60.04,124.07 L60.18,124.07 L60.32,124.07 L60.46,124.07 L60.60,124.07 L60.73,124.07 L60.87,124.07 L61.01,124.07 L61.15,124.07 L61.29,124.07 L61.43,124.07 L61.57,124.07 L61.71,124.07 L61.84,124.07 L61.98,124.07 L62.12,124.07 L62.26,124.07 L62.40,124.07 L62.54,124.07 L62.68,124.07 L62.82,124.07 L62.95,124.07 L63.09,124.07 L63.23,124.07 L63.37,124.07 L63.51,124.07 L63.65,124.07 L63.79,124.07 L63.93,124.07 L64.06,124.07 L64.20,124.07 L64.34,124.07 L64.48,124.07 L64.62,124.07 L64.76,124.07 L64.90,124.07 L65.04,124.07 L65.18,124.07 L65.31,124.07 L65.45,124.07 L65.59,124.07 L65.73,124.07 L65.87,124.07 L66.01,124.07 L66.15,124.07 L66.28,124.07 L66.42,124.07 L66.56,124.07 L66.70,124.07 L66.84,124.07 L66.98,124.07 L67.12,124.07 L67.26,124.07 L67.40,124.07 L67.53,124.07 L67.67,124.07 L67.81,124.07 L67.95,124.07 L68.09,124.07 L68.23,124.07 L68.37,124.07 L68.50,124.07 L68.64,124.07 L68.78,124.07 L68.92,124.07 L69.06,124.07 L69.20,124.07 L69.34,124.07 L69.48,124.07 L69.62,124.07 L69.75,124.07 L69.89,124.07 L70.03,124.07 L70.17,124.07 L70.31,124.07 L70.45,124.07 L70.59,124.07 L70.73,124.07 L70.86,124.07 L71.00,124.07 L71.14,124.07 L71.28,124.07 L71.42,124.07 L71.56,124.07 L71.70,124.07 L71.84,124.07 L71.97,124.07 L72.11,124.07 L72.25,124.07 L72.39,124.07 L72.53,124.07 L72.67,124.07 L72.81,124.07 L72.94,124.07 L73.08,124.07 L73.22,124.07 L73.36,124.07 L73.50,124.07 L73.64,124.07 L73.78,124.07 L73.92,124.07 L74.06,124.07 L74.19,124.07 L74.33,124.07 L74.47,124.07 L74.61,124.07 L74.75,124.07 L74.89,124.07 L75.03,124.07 L75.17,124.07 L75.30,124.07 L75.44,124.07 L75.58,124.07 L75.72,124.07 L75.86,124.07 L76.00,124.07 L76.14,124.07 L76.28,124.07 L76.41,124.07 L76.55,124.07 L76.69,124.07 L76.83,124.07 L76.97,124.07 L77.11,124.07 L77.25,124.07 L77.39,124.07 L77.52,124.07 L77.66,124.07 L77.80,124.07 L77.94,124.07 L78.08,124.07 L78.22,124.06 L78.36,124.05 L78.50,124.03 L78.63,124.00 L78.77,123.95 L78.91,123.88 L79.05,123.77 L79.19,123.63 L79.33,123.45 L79.47,123.25 L79.61,123.03 L79.74,122.82 L79.88,122.65 L80.02,122.54 L80.16,122.50 L80.30,122.53 L80.44,122.65 L80.58,122.81 L80.72,123.01 L80.85,123.20 L80.99,123.38 L81.13,123.51 L81.27,123.58 L81.41,123.57 L81.55,123.49 L81.69,123.29 L81.83,122.98 L81.96,122.52 L82.10,121.87 L82.24,121.00 L82.38,119.85 L82.52,118.39 L82.66,116.55 L82.80,114.32 L82.94,111.66 L83.07,108.58 L83.21,105.10 L83.35,101.28 L83.49,97.22 L83.63,93.04 L83.77,88.89 L83.91,84.96 L84.05,81.41 L84.18,78.43 L84.32,76.18 L84.46,74.77 L84.60,74.29 L84.74,74.77 L84.88,76.18 L85.02,78.43 L85.16,81.41 L85.29,84.96 L85.43,88.89 L85.57,93.04 L85.71,97.22 L85.85,101.28 L85.99,105.10 L86.13,108.58 L86.27,111.66 L86.40,114.32 L86.54,116.55 L86.68,118.39 L86.82,119.86 L86.96,121.01 L87.10,121.88 L87.24,122.54 L87.38,123.02 L87.51,123.36 L87.65,123.60 L87.79,123.77 L87.93,123.88 L88.07,123.95 L88.21,124.00 L88.35,124.03 L88.48,124.05 L88.62,124.06 L88.76,124.06 L88.90,124.07 L89.04,124.07 L89.18,124.07 L89.32,124.07 L89.46,124.07 L89.59,124.07 L89.73,124.07 L89.87,124.07 L90.01,124.07 L90.15,124.07 L90.29,124.07 L90.43,124.07 L90.57,124.07 L90.71,124.07 L90.84,124.07 L90.98,124.07 L91.12,124.07 L91.26,124.07 L91.40,124.07 L91.54,124.07 L91.68,124.07 L91.81,124.07 L91.95,124.07 L92.09,124.07 L92.23,124.07 L92.37,124.07 L92.51,124.07 L92.65,124.07 L92.79,124.07 L92.92,124.07 L93.06,124.07 L93.20,124.07 L93.34,124.07 L93.48,124.07 L93.62,124.07 L93.76,124.07 L93.90,124.07 L94.03,124.07 L94.17,124.07 L94.31,124.07 L94.45,124.07 L94.59,124.07 L94.73,124.07 L94.87,124.07 L95.01,124.07 L95.15,124.07 L95.28,124.07 L95.42,124.07 L95.56,124.07 L95.70,124.07" fill="none" stroke="#444" stroke-width="0.62" stroke-linejoin="round"/>
<line x1="40.20" y1="124.45" x2="95.70" y2="124.45" stroke="#555" stroke-width="0.8"/>
<line x1="40.20" y1="124.70" x2="40.20" y2="126.00" stroke="#555" stroke-width="0.5"/>
<text x="40.20" y="129.40" font-size="2.9" font-weight="bold" text-anchor="middle" fill="#222">10<tspan dy="-1" font-size="2">0</tspan></text>
<line x1="54.08" y1="124.70" x2="54.08" y2="126.00" stroke="#555" stroke-width="0.5"/>
<text x="54.08" y="129.40" font-size="2.9" font-weight="bold" text-anchor="middle" fill="#222">10<tspan dy="-1" font-size="2">1</tspan></text>
<line x1="67.95" y1="124.70" x2="67.95" y2="126.00" stroke="#555" stroke-width="0.5"/>
<text x="67.95" y="129.40" font-size="2.9" font-weight="bold" text-anchor="middle" fill="#222">10<tspan dy="-1" font-size="2">2</tspan></text>
<line x1="81.83" y1="124.70" x2="81.83" y2="126.00" stroke="#555" stroke-width="0.5"/>
<text x="81.83" y="129.40" font-size="2.9" font-weight="bold" text-anchor="middle" fill="#222">10<tspan dy="-1" font-size="2">3</tspan></text>
<line x1="95.70" y1="124.70" x2="95.70" y2="126.00" stroke="#555" stroke-width="0.5"/>
<text x="95.70" y="129.40" font-size="2.9" font-weight="bold" text-anchor="middle" fill="#222">10<tspan dy="-1" font-size="2">4</tspan></text>
<text x="67.95" y="132.50" font-size="2.7" font-weight="bold" text-anchor="middle" fill="#333">FL1-H: CFSE</text>
<line x1="39.00" y1="124.70" x2="40.20" y2="124.70" stroke="#555" stroke-width="0.5"/>
<text x="38.20" y="125.60" font-size="2.8" font-weight="bold" text-anchor="end" fill="#222">0</text>
<line x1="39.00" y1="112.75" x2="40.20" y2="112.75" stroke="#555" stroke-width="0.5"/>
<text x="38.20" y="113.65" font-size="2.8" font-weight="bold" text-anchor="end" fill="#222">20</text>
<line x1="39.00" y1="100.80" x2="40.20" y2="100.80" stroke="#555" stroke-width="0.5"/>
<text x="38.20" y="101.70" font-size="2.8" font-weight="bold" text-anchor="end" fill="#222">40</text>
<line x1="39.00" y1="88.85" x2="40.20" y2="88.85" stroke="#555" stroke-width="0.5"/>
<text x="38.20" y="89.75" font-size="2.8" font-weight="bold" text-anchor="end" fill="#222">60</text>
<line x1="39.00" y1="76.90" x2="40.20" y2="76.90" stroke="#555" stroke-width="0.5"/>
<text x="38.20" y="77.80" font-size="2.8" font-weight="bold" text-anchor="end" fill="#222">80</text>
<text transform="translate(32.00,98.50) rotate(-90)" font-size="2.7" font-weight="bold" text-anchor="middle" fill="#333"># Cells</text>
<rect x="113.00" y="71.90" width="55.00" height="52.60" fill="none" stroke="#555" stroke-width="0.55"/>
<path d="M113.00,123.87 L113.14,123.87 L113.28,123.87 L113.41,123.87 L113.55,123.87 L113.69,123.87 L113.83,123.87 L113.96,123.87 L114.10,123.87 L114.24,123.87 L114.38,123.87 L114.51,123.87 L114.65,123.87 L114.79,123.87 L114.92,123.87 L115.06,123.87 L115.20,123.87 L115.34,123.87 L115.47,123.87 L115.61,123.87 L115.75,123.87 L115.89,123.87 L116.03,123.87 L116.16,123.87 L116.30,123.87 L116.44,123.87 L116.58,123.87 L116.71,123.87 L116.85,123.87 L116.99,123.87 L117.12,123.87 L117.26,123.87 L117.40,123.87 L117.54,123.87 L117.67,123.87 L117.81,123.87 L117.95,123.87 L118.09,123.87 L118.22,123.87 L118.36,123.87 L118.50,123.87 L118.64,123.87 L118.78,123.87 L118.91,123.87 L119.05,123.87 L119.19,123.87 L119.33,123.87 L119.46,123.87 L119.60,123.87 L119.74,123.87 L119.88,123.87 L120.01,123.87 L120.15,123.87 L120.29,123.87 L120.42,123.87 L120.56,123.87 L120.70,123.87 L120.84,123.87 L120.97,123.87 L121.11,123.87 L121.25,123.87 L121.39,123.87 L121.53,123.87 L121.66,123.87 L121.80,123.87 L121.94,123.87 L122.08,123.87 L122.21,123.87 L122.35,123.87 L122.49,123.87 L122.62,123.87 L122.76,123.87 L122.90,123.87 L123.04,123.87 L123.17,123.87 L123.31,123.87 L123.45,123.87 L123.59,123.87 L123.72,123.87 L123.86,123.87 L124.00,123.87 L124.14,123.87 L124.28,123.87 L124.41,123.87 L124.55,123.87 L124.69,123.87 L124.83,123.87 L124.96,123.87 L125.10,123.87 L125.24,123.87 L125.38,123.87 L125.51,123.87 L125.65,123.87 L125.79,123.87 L125.92,123.87 L126.06,123.87 L126.20,123.87 L126.34,123.87 L126.47,123.87 L126.61,123.87 L126.75,123.87 L126.89,123.87 L127.03,123.87 L127.16,123.87 L127.30,123.87 L127.44,123.87 L127.58,123.87 L127.71,123.87 L127.85,123.87 L127.99,123.87 L128.12,123.87 L128.26,123.87 L128.40,123.87 L128.54,123.87 L128.68,123.87 L128.81,123.87 L128.95,123.87 L129.09,123.87 L129.22,123.87 L129.36,123.87 L129.50,123.87 L129.64,123.87 L129.78,123.87 L129.91,123.87 L130.05,123.87 L130.19,123.87 L130.32,123.87 L130.46,123.87 L130.60,123.87 L130.74,123.87 L130.88,123.87 L131.01,123.87 L131.15,123.87 L131.29,123.87 L131.43,123.87 L131.56,123.87 L131.70,123.87 L131.84,123.87 L131.97,123.87 L132.11,123.87 L132.25,123.87 L132.39,123.87 L132.53,123.87 L132.66,123.87 L132.80,123.87 L132.94,123.87 L133.07,123.87 L133.21,123.87 L133.35,123.87 L133.49,123.87 L133.62,123.87 L133.76,123.87 L133.90,123.87 L134.04,123.87 L134.18,123.87 L134.31,123.87 L134.45,123.87 L134.59,123.87 L134.72,123.87 L134.86,123.87 L135.00,123.87 L135.14,123.87 L135.28,123.87 L135.41,123.87 L135.55,123.87 L135.69,123.87 L135.82,123.87 L135.96,123.87 L136.10,123.87 L136.24,123.87 L136.38,123.87 L136.51,123.87 L136.65,123.87 L136.79,123.87 L136.93,123.87 L137.06,123.87 L137.20,123.87 L137.34,123.87 L137.47,123.87 L137.61,123.87 L137.75,123.87 L137.89,123.87 L138.03,123.87 L138.16,123.87 L138.30,123.87 L138.44,123.87 L138.57,123.87 L138.71,123.87 L138.85,123.87 L138.99,123.87 L139.12,123.87 L139.26,123.87 L139.40,123.87 L139.54,123.87 L139.68,123.87 L139.81,123.87 L139.95,123.87 L140.09,123.87 L140.22,123.87 L140.36,123.87 L140.50,123.87 L140.64,123.87 L140.78,123.87 L140.91,123.87 L141.05,123.87 L141.19,123.87 L141.32,123.87 L141.46,123.87 L141.60,123.87 L141.74,123.87 L141.88,123.87 L142.01,123.87 L142.15,123.87 L142.29,123.87 L142.43,123.87 L142.56,123.87 L142.70,123.87 L142.84,123.87 L142.97,123.87 L143.11,123.87 L143.25,123.87 L143.39,123.86 L143.53,123.86 L143.66,123.85 L143.80,123.83 L143.94,123.80 L144.07,123.75 L144.21,123.67 L144.35,123.57 L144.49,123.42 L144.62,123.25 L144.76,123.04 L144.90,122.82 L145.04,122.62 L145.18,122.45 L145.31,122.33 L145.45,122.29 L145.59,122.33 L145.72,122.45 L145.86,122.62 L146.00,122.82 L146.14,123.04 L146.28,123.25 L146.41,123.42 L146.55,123.56 L146.69,123.67 L146.82,123.73 L146.96,123.77 L147.10,123.77 L147.24,123.74 L147.38,123.67 L147.51,123.57 L147.65,123.40 L147.79,123.18 L147.93,122.89 L148.06,122.54 L148.20,122.14 L148.34,121.71 L148.47,121.29 L148.61,120.92 L148.75,120.63 L148.89,120.48 L149.03,120.46 L149.16,120.59 L149.30,120.85 L149.44,121.21 L149.57,121.62 L149.71,122.05 L149.85,122.46 L149.99,122.82 L150.12,123.12 L150.26,123.35 L150.40,123.52 L150.54,123.62 L150.68,123.67 L150.81,123.68 L150.95,123.64 L151.09,123.54 L151.22,123.39 L151.36,123.15 L151.50,122.81 L151.64,122.33 L151.78,121.67 L151.91,120.79 L152.05,119.64 L152.19,118.16 L152.32,116.32 L152.46,114.08 L152.60,111.41 L152.74,108.31 L152.88,104.82 L153.01,100.99 L153.15,96.91 L153.29,92.72 L153.43,88.56 L153.56,84.61 L153.70,81.04 L153.84,78.05 L153.97,75.79 L154.11,74.38 L154.25,73.90 L154.39,74.38 L154.53,75.79 L154.66,78.05 L154.80,81.04 L154.94,84.61 L155.07,88.56 L155.21,92.72 L155.35,96.91 L155.49,100.99 L155.62,104.82 L155.76,108.31 L155.90,111.41 L156.04,114.08 L156.18,116.32 L156.31,118.16 L156.45,119.64 L156.59,120.79 L156.72,121.67 L156.86,122.33 L157.00,122.81 L157.14,123.16 L157.28,123.40 L157.41,123.56 L157.55,123.68 L157.69,123.75 L157.82,123.80 L157.96,123.82 L158.10,123.84 L158.24,123.85 L158.38,123.86 L158.51,123.86 L158.65,123.87 L158.79,123.87 L158.93,123.87 L159.06,123.87 L159.20,123.87 L159.34,123.87 L159.47,123.87 L159.61,123.87 L159.75,123.87 L159.89,123.87 L160.03,123.87 L160.16,123.87 L160.30,123.87 L160.44,123.87 L160.57,123.87 L160.71,123.87 L160.85,123.87 L160.99,123.87 L161.12,123.87 L161.26,123.87 L161.40,123.87 L161.54,123.87 L161.68,123.87 L161.81,123.87 L161.95,123.87 L162.09,123.87 L162.22,123.87 L162.36,123.87 L162.50,123.87 L162.64,123.87 L162.78,123.87 L162.91,123.87 L163.05,123.87 L163.19,123.87 L163.32,123.87 L163.46,123.87 L163.60,123.87 L163.74,123.87 L163.88,123.87 L164.01,123.87 L164.15,123.87 L164.29,123.87 L164.43,123.87 L164.56,123.87 L164.70,123.87 L164.84,123.87 L164.97,123.87 L165.11,123.87 L165.25,123.87 L165.39,123.87 L165.53,123.87 L165.66,123.87 L165.80,123.87 L165.94,123.87 L166.07,123.87 L166.21,123.87 L166.35,123.87 L166.49,123.87 L166.62,123.87 L166.76,123.87 L166.90,123.87 L167.04,123.87 L167.18,123.87 L167.31,123.87 L167.45,123.87 L167.59,123.87 L167.72,123.87 L167.86,123.87 L168.00,123.87" fill="none" stroke="#444" stroke-width="0.62" stroke-linejoin="round"/>
<line x1="113.00" y1="124.25" x2="168.00" y2="124.25" stroke="#555" stroke-width="0.8"/>
<line x1="113.00" y1="124.50" x2="113.00" y2="125.80" stroke="#555" stroke-width="0.5"/>
<text x="113.00" y="129.20" font-size="2.9" font-weight="bold" text-anchor="middle" fill="#222">10<tspan dy="-1" font-size="2">0</tspan></text>
<line x1="126.75" y1="124.50" x2="126.75" y2="125.80" stroke="#555" stroke-width="0.5"/>
<text x="126.75" y="129.20" font-size="2.9" font-weight="bold" text-anchor="middle" fill="#222">10<tspan dy="-1" font-size="2">1</tspan></text>
<line x1="140.50" y1="124.50" x2="140.50" y2="125.80" stroke="#555" stroke-width="0.5"/>
<text x="140.50" y="129.20" font-size="2.9" font-weight="bold" text-anchor="middle" fill="#222">10<tspan dy="-1" font-size="2">2</tspan></text>
<line x1="154.25" y1="124.50" x2="154.25" y2="125.80" stroke="#555" stroke-width="0.5"/>
<text x="154.25" y="129.20" font-size="2.9" font-weight="bold" text-anchor="middle" fill="#222">10<tspan dy="-1" font-size="2">3</tspan></text>
<line x1="168.00" y1="124.50" x2="168.00" y2="125.80" stroke="#555" stroke-width="0.5"/>
<text x="168.00" y="129.20" font-size="2.9" font-weight="bold" text-anchor="middle" fill="#222">10<tspan dy="-1" font-size="2">4</tspan></text>
<text x="140.50" y="132.30" font-size="2.7" font-weight="bold" text-anchor="middle" fill="#333">FL1-H: CFSE</text>
<line x1="111.80" y1="124.50" x2="113.00" y2="124.50" stroke="#555" stroke-width="0.5"/>
<text x="111.00" y="125.40" font-size="2.8" font-weight="bold" text-anchor="end" fill="#222">0</text>
<line x1="111.80" y1="108.50" x2="113.00" y2="108.50" stroke="#555" stroke-width="0.5"/>
<text x="111.00" y="109.40" font-size="2.8" font-weight="bold" text-anchor="end" fill="#222">50</text>
<line x1="111.80" y1="92.50" x2="113.00" y2="92.50" stroke="#555" stroke-width="0.5"/>
<text x="111.00" y="93.40" font-size="2.8" font-weight="bold" text-anchor="end" fill="#222">100</text>
<line x1="111.80" y1="76.50" x2="113.00" y2="76.50" stroke="#555" stroke-width="0.5"/>
<text x="111.00" y="77.40" font-size="2.8" font-weight="bold" text-anchor="end" fill="#222">150</text>
<text transform="translate(104.80,98.20) rotate(-90)" font-size="2.7" font-weight="bold" text-anchor="middle" fill="#333"># Cells</text>
<rect x="40.20" y="135.90" width="55.90" height="52.40" fill="none" stroke="#555" stroke-width="0.55"/>
<path d="M40.20,187.67 L40.34,187.67 L40.48,187.67 L40.62,187.67 L40.76,187.67 L40.90,187.67 L41.04,187.67 L41.18,187.67 L41.32,187.67 L41.46,187.67 L41.60,187.67 L41.74,187.67 L41.88,187.67 L42.02,187.67 L42.16,187.67 L42.30,187.67 L42.44,187.67 L42.58,187.67 L42.72,187.67 L42.86,187.67 L43.00,187.67 L43.13,187.67 L43.27,187.67 L43.41,187.67 L43.55,187.67 L43.69,187.67 L43.83,187.67 L43.97,187.67 L44.11,187.67 L44.25,187.67 L44.39,187.67 L44.53,187.67 L44.67,187.67 L44.81,187.67 L44.95,187.67 L45.09,187.67 L45.23,187.67 L45.37,187.67 L45.51,187.67 L45.65,187.67 L45.79,187.67 L45.93,187.67 L46.07,187.67 L46.21,187.67 L46.35,187.67 L46.49,187.67 L46.63,187.67 L46.77,187.67 L46.91,187.67 L47.05,187.67 L47.19,187.67 L47.33,187.67 L47.47,187.67 L47.61,187.67 L47.75,187.67 L47.89,187.67 L48.03,187.67 L48.17,187.67 L48.31,187.67 L48.45,187.67 L48.59,187.67 L48.72,187.67 L48.86,187.67 L49.00,187.67 L49.14,187.67 L49.28,187.67 L49.42,187.67 L49.56,187.67 L49.70,187.67 L49.84,187.67 L49.98,187.67 L50.12,187.67 L50.26,187.67 L50.40,187.67 L50.54,187.67 L50.68,187.67 L50.82,187.67 L50.96,187.67 L51.10,187.67 L51.24,187.67 L51.38,187.67 L51.52,187.67 L51.66,187.67 L51.80,187.67 L51.94,187.67 L52.08,187.67 L52.22,187.67 L52.36,187.67 L52.50,187.67 L52.64,187.67 L52.78,187.67 L52.92,187.67 L53.06,187.67 L53.20,187.67 L53.34,187.67 L53.48,187.67 L53.62,187.67 L53.76,187.67 L53.90,187.67 L54.04,187.67 L54.17,187.67 L54.31,187.67 L54.45,187.67 L54.59,187.67 L54.73,187.66 L54.87,187.66 L55.01,187.66 L55.15,187.66 L55.29,187.66 L55.43,187.66 L55.57,187.66 L55.71,187.66 L55.85,187.66 L55.99,187.66 L56.13,187.66 L56.27,187.66 L56.41,187.65 L56.55,187.65 L56.69,187.65 L56.83,187.65 L56.97,187.65 L57.11,187.65 L57.25,187.64 L57.39,187.64 L57.53,187.64 L57.67,187.64 L57.81,187.64 L57.95,187.63 L58.09,187.63 L58.23,187.63 L58.37,187.62 L58.51,187.62 L58.65,187.62 L58.79,187.61 L58.93,187.61 L59.07,187.60 L59.21,187.60 L59.35,187.60 L59.49,187.59 L59.63,187.58 L59.77,187.58 L59.90,187.57 L60.04,187.57 L60.18,187.56 L60.32,187.55 L60.46,187.55 L60.60,187.54 L60.74,187.53 L60.88,187.52 L61.02,187.51 L61.16,187.50 L61.30,187.49 L61.44,187.48 L61.58,187.47 L61.72,187.46 L61.86,187.45 L62.00,187.44 L62.14,187.43 L62.28,187.41 L62.42,187.40 L62.56,187.39 L62.70,187.37 L62.84,187.36 L62.98,187.34 L63.12,187.33 L63.26,187.31 L63.40,187.29 L63.54,187.27 L63.68,187.25 L63.82,187.23 L63.96,187.20 L64.10,187.16 L64.24,187.12 L64.38,187.06 L64.52,186.98 L64.66,186.88 L64.80,186.74 L64.94,186.56 L65.08,186.32 L65.22,186.02 L65.36,185.64 L65.49,185.17 L65.63,184.62 L65.77,183.99 L65.91,183.29 L66.05,182.54 L66.19,181.76 L66.33,181.01 L66.47,180.31 L66.61,179.70 L66.75,179.23 L66.89,178.92 L67.03,178.79 L67.17,178.86 L67.31,179.10 L67.45,179.52 L67.59,180.06 L67.73,180.70 L67.87,181.40 L68.01,182.10 L68.15,182.79 L68.29,183.43 L68.43,183.99 L68.57,184.46 L68.71,184.83 L68.85,185.10 L68.99,185.27 L69.13,185.34 L69.27,185.30 L69.41,185.15 L69.55,184.88 L69.69,184.50 L69.83,183.98 L69.97,183.33 L70.11,182.55 L70.25,181.65 L70.39,180.64 L70.53,179.55 L70.67,178.44 L70.81,177.35 L70.94,176.34 L71.08,175.47 L71.22,174.80 L71.36,174.37 L71.50,174.21 L71.64,174.33 L71.78,174.72 L71.92,175.35 L72.06,176.17 L72.20,177.14 L72.34,178.17 L72.48,179.23 L72.62,180.24 L72.76,181.15 L72.90,181.94 L73.04,182.56 L73.18,183.00 L73.32,183.24 L73.46,183.28 L73.60,183.11 L73.74,182.72 L73.88,182.13 L74.02,181.34 L74.16,180.37 L74.30,179.26 L74.44,178.05 L74.58,176.79 L74.72,175.55 L74.86,174.40 L75.00,173.42 L75.14,172.66 L75.28,172.19 L75.42,172.04 L75.56,172.22 L75.70,172.72 L75.84,173.51 L75.98,174.53 L76.12,175.71 L76.26,177.00 L76.40,178.30 L76.53,179.58 L76.67,180.76 L76.81,181.82 L76.95,182.74 L77.09,183.50 L77.23,184.10 L77.37,184.54 L77.51,184.84 L77.65,185.00 L77.79,185.02 L77.93,184.91 L78.07,184.67 L78.21,184.28 L78.35,183.76 L78.49,183.10 L78.63,182.30 L78.77,181.39 L78.91,180.39 L79.05,179.34 L79.19,178.29 L79.33,177.30 L79.47,176.42 L79.61,175.72 L79.75,175.24 L79.89,175.02 L80.03,175.08 L80.17,175.41 L80.31,176.00 L80.45,176.80 L80.59,177.77 L80.73,178.83 L80.87,179.94 L81.01,181.03 L81.15,182.04 L81.29,182.95 L81.43,183.72 L81.57,184.32 L81.71,184.73 L81.85,184.95 L81.99,184.95 L82.12,184.72 L82.26,184.22 L82.40,183.44 L82.54,182.32 L82.68,180.84 L82.82,178.95 L82.96,176.63 L83.10,173.86 L83.24,170.66 L83.38,167.06 L83.52,163.13 L83.66,158.97 L83.80,154.72 L83.94,150.53 L84.08,146.59 L84.22,143.09 L84.36,140.20 L84.50,138.08 L84.64,136.84 L84.78,136.56 L84.92,137.26 L85.06,138.89 L85.20,141.37 L85.34,144.55 L85.48,148.28 L85.62,152.37 L85.76,156.63 L85.90,160.90 L86.04,165.02 L86.18,168.86 L86.32,172.35 L86.46,175.42 L86.60,178.05 L86.74,180.26 L86.88,182.06 L87.02,183.50 L87.16,184.62 L87.30,185.48 L87.44,186.12 L87.58,186.58 L87.72,186.91 L87.85,187.15 L87.99,187.31 L88.13,187.42 L88.27,187.49 L88.41,187.54 L88.55,187.57 L88.69,187.59 L88.83,187.60 L88.97,187.61 L89.11,187.62 L89.25,187.62 L89.39,187.63 L89.53,187.63 L89.67,187.63 L89.81,187.64 L89.95,187.64 L90.09,187.64 L90.23,187.64 L90.37,187.65 L90.51,187.65 L90.65,187.65 L90.79,187.65 L90.93,187.65 L91.07,187.65 L91.21,187.66 L91.35,187.66 L91.49,187.66 L91.63,187.66 L91.77,187.66 L91.91,187.66 L92.05,187.66 L92.19,187.66 L92.33,187.66 L92.47,187.66 L92.61,187.66 L92.75,187.66 L92.89,187.67 L93.03,187.67 L93.17,187.67 L93.30,187.67 L93.44,187.67 L93.58,187.67 L93.72,187.67 L93.86,187.67 L94.00,187.67 L94.14,187.67 L94.28,187.67 L94.42,187.67 L94.56,187.67 L94.70,187.67 L94.84,187.67 L94.98,187.67 L95.12,187.67 L95.26,187.67 L95.40,187.67 L95.54,187.67 L95.68,187.67 L95.82,187.67 L95.96,187.67 L96.10,187.67" fill="none" stroke="#444" stroke-width="0.62" stroke-linejoin="round"/>
<line x1="40.20" y1="188.05" x2="96.10" y2="188.05" stroke="#555" stroke-width="0.8"/>
<line x1="40.20" y1="188.30" x2="40.20" y2="189.60" stroke="#555" stroke-width="0.5"/>
<text x="40.20" y="193.00" font-size="2.9" font-weight="bold" text-anchor="middle" fill="#222">10<tspan dy="-1" font-size="2">0</tspan></text>
<line x1="54.17" y1="188.30" x2="54.17" y2="189.60" stroke="#555" stroke-width="0.5"/>
<text x="54.17" y="193.00" font-size="2.9" font-weight="bold" text-anchor="middle" fill="#222">10<tspan dy="-1" font-size="2">1</tspan></text>
<line x1="68.15" y1="188.30" x2="68.15" y2="189.60" stroke="#555" stroke-width="0.5"/>
<text x="68.15" y="193.00" font-size="2.9" font-weight="bold" text-anchor="middle" fill="#222">10<tspan dy="-1" font-size="2">2</tspan></text>
<line x1="82.12" y1="188.30" x2="82.12" y2="189.60" stroke="#555" stroke-width="0.5"/>
<text x="82.12" y="193.00" font-size="2.9" font-weight="bold" text-anchor="middle" fill="#222">10<tspan dy="-1" font-size="2">3</tspan></text>
<line x1="96.10" y1="188.30" x2="96.10" y2="189.60" stroke="#555" stroke-width="0.5"/>
<text x="96.10" y="193.00" font-size="2.9" font-weight="bold" text-anchor="middle" fill="#222">10<tspan dy="-1" font-size="2">4</tspan></text>
<text x="68.15" y="196.10" font-size="2.7" font-weight="bold" text-anchor="middle" fill="#333">FL1-H: CFSE</text>
<line x1="39.00" y1="188.30" x2="40.20" y2="188.30" stroke="#555" stroke-width="0.5"/>
<text x="38.20" y="189.20" font-size="2.8" font-weight="bold" text-anchor="end" fill="#222">0</text>
<line x1="39.00" y1="176.35" x2="40.20" y2="176.35" stroke="#555" stroke-width="0.5"/>
<text x="38.20" y="177.25" font-size="2.8" font-weight="bold" text-anchor="end" fill="#222">20</text>
<line x1="39.00" y1="164.40" x2="40.20" y2="164.40" stroke="#555" stroke-width="0.5"/>
<text x="38.20" y="165.30" font-size="2.8" font-weight="bold" text-anchor="end" fill="#222">40</text>
<line x1="39.00" y1="152.45" x2="40.20" y2="152.45" stroke="#555" stroke-width="0.5"/>
<text x="38.20" y="153.35" font-size="2.8" font-weight="bold" text-anchor="end" fill="#222">60</text>
<line x1="39.00" y1="140.50" x2="40.20" y2="140.50" stroke="#555" stroke-width="0.5"/>
<text x="38.20" y="141.40" font-size="2.8" font-weight="bold" text-anchor="end" fill="#222">80</text>
<text transform="translate(32.00,162.10) rotate(-90)" font-size="2.7" font-weight="bold" text-anchor="middle" fill="#333"># Cells</text>
<rect x="112.00" y="136.90" width="55.00" height="52.00" fill="none" stroke="#555" stroke-width="0.55"/>
<path d="M112.00,188.28 L112.14,188.28 L112.28,188.28 L112.41,188.28 L112.55,188.28 L112.69,188.28 L112.83,188.28 L112.96,188.28 L113.10,188.28 L113.24,188.27 L113.38,188.27 L113.51,188.27 L113.65,188.27 L113.79,188.27 L113.92,188.27 L114.06,188.27 L114.20,188.27 L114.34,188.27 L114.47,188.27 L114.61,188.27 L114.75,188.27 L114.89,188.27 L115.03,188.27 L115.16,188.27 L115.30,188.27 L115.44,188.27 L115.58,188.27 L115.71,188.27 L115.85,188.27 L115.99,188.27 L116.12,188.27 L116.26,188.27 L116.40,188.27 L116.54,188.27 L116.67,188.27 L116.81,188.27 L116.95,188.27 L117.09,188.26 L117.22,188.26 L117.36,188.26 L117.50,188.26 L117.64,188.26 L117.78,188.26 L117.91,188.26 L118.05,188.26 L118.19,188.25 L118.33,188.25 L118.46,188.25 L118.60,188.25 L118.74,188.25 L118.88,188.25 L119.01,188.24 L119.15,188.24 L119.29,188.24 L119.42,188.24 L119.56,188.23 L119.70,188.23 L119.84,188.23 L119.97,188.22 L120.11,188.22 L120.25,188.22 L120.39,188.21 L120.53,188.21 L120.66,188.20 L120.80,188.20 L120.94,188.19 L121.08,188.19 L121.21,188.18 L121.35,188.17 L121.49,188.17 L121.62,188.16 L121.76,188.15 L121.90,188.15 L122.04,188.14 L122.17,188.13 L122.31,188.12 L122.45,188.11 L122.59,188.10 L122.72,188.09 L122.86,188.08 L123.00,188.06 L123.14,188.05 L123.28,188.03 L123.41,188.02 L123.55,188.00 L123.69,187.98 L123.83,187.96 L123.96,187.93 L124.10,187.90 L124.24,187.87 L124.38,187.84 L124.51,187.80 L124.65,187.75 L124.79,187.71 L124.92,187.65 L125.06,187.59 L125.20,187.53 L125.34,187.45 L125.47,187.38 L125.61,187.29 L125.75,187.19 L125.89,187.09 L126.03,186.98 L126.16,186.87 L126.30,186.75 L126.44,186.62 L126.58,186.49 L126.71,186.36 L126.85,186.22 L126.99,186.08 L127.12,185.94 L127.26,185.81 L127.40,185.67 L127.54,185.55 L127.67,185.43 L127.81,185.32 L127.95,185.22 L128.09,185.13 L128.22,185.05 L128.36,184.99 L128.50,184.93 L128.64,184.90 L128.78,184.87 L128.91,184.86 L129.05,184.85 L129.19,184.86 L129.32,184.86 L129.46,184.88 L129.60,184.89 L129.74,184.89 L129.88,184.87 L130.01,184.84 L130.15,184.78 L130.29,184.67 L130.43,184.52 L130.56,184.30 L130.70,184.02 L130.84,183.66 L130.97,183.22 L131.11,182.69 L131.25,182.09 L131.39,181.43 L131.53,180.71 L131.66,179.97 L131.80,179.22 L131.94,178.51 L132.07,177.86 L132.21,177.31 L132.35,176.88 L132.49,176.60 L132.62,176.47 L132.76,176.52 L132.90,176.71 L133.04,177.06 L133.18,177.51 L133.31,178.05 L133.45,178.62 L133.59,179.19 L133.72,179.70 L133.86,180.10 L134.00,180.33 L134.14,180.35 L134.28,180.12 L134.41,179.58 L134.55,178.72 L134.69,177.54 L134.82,176.05 L134.96,174.30 L135.10,172.36 L135.24,170.34 L135.38,168.37 L135.51,166.57 L135.65,165.10 L135.79,164.05 L135.93,163.53 L136.06,163.57 L136.20,164.17 L136.34,165.29 L136.47,166.82 L136.61,168.65 L136.75,170.64 L136.89,172.66 L137.03,174.59 L137.16,176.30 L137.30,177.73 L137.44,178.80 L137.57,179.48 L137.71,179.74 L137.85,179.57 L137.99,178.97 L138.12,177.97 L138.26,176.58 L138.40,174.87 L138.54,172.91 L138.68,170.81 L138.81,168.68 L138.95,166.66 L139.09,164.91 L139.22,163.55 L139.36,162.70 L139.50,162.43 L139.64,162.75 L139.78,163.66 L139.91,165.08 L140.05,166.89 L140.19,168.98 L140.32,171.20 L140.46,173.42 L140.60,175.53 L140.74,177.44 L140.88,179.10 L141.01,180.48 L141.15,181.57 L141.29,182.38 L141.43,182.93 L141.56,183.24 L141.70,183.32 L141.84,183.18 L141.97,182.83 L142.11,182.26 L142.25,181.48 L142.39,180.47 L142.53,179.25 L142.66,177.85 L142.80,176.30 L142.94,174.66 L143.07,173.00 L143.21,171.41 L143.35,169.99 L143.49,168.82 L143.62,168.00 L143.76,167.57 L143.90,167.59 L144.04,168.04 L144.18,168.90 L144.31,170.11 L144.45,171.60 L144.59,173.26 L144.72,175.01 L144.86,176.75 L145.00,178.39 L145.14,179.88 L145.28,181.15 L145.41,182.17 L145.55,182.93 L145.69,183.41 L145.82,183.61 L145.96,183.53 L146.10,183.17 L146.24,182.55 L146.38,181.69 L146.51,180.60 L146.65,179.34 L146.79,177.95 L146.93,176.50 L147.06,175.07 L147.20,173.74 L147.34,172.61 L147.47,171.75 L147.61,171.22 L147.75,171.06 L147.89,171.29 L148.03,171.90 L148.16,172.84 L148.30,174.04 L148.44,175.44 L148.57,176.93 L148.71,178.43 L148.85,179.86 L148.99,181.15 L149.12,182.24 L149.26,183.09 L149.40,183.67 L149.54,183.94 L149.68,183.89 L149.81,183.51 L149.95,182.76 L150.09,181.63 L150.22,180.11 L150.36,178.19 L150.50,175.85 L150.64,173.11 L150.78,170.00 L150.91,166.56 L151.05,162.87 L151.19,159.03 L151.32,155.17 L151.46,151.41 L151.60,147.92 L151.74,144.84 L151.88,142.32 L152.01,140.48 L152.15,139.41 L152.29,139.17 L152.43,139.77 L152.56,141.19 L152.70,143.34 L152.84,146.12 L152.97,149.41 L153.11,153.06 L153.25,156.91 L153.39,160.81 L153.53,164.64 L153.66,168.28 L153.80,171.64 L153.94,174.68 L154.07,177.35 L154.21,179.64 L154.35,181.56 L154.49,183.14 L154.62,184.41 L154.76,185.41 L154.90,186.19 L155.04,186.77 L155.18,187.21 L155.31,187.53 L155.45,187.75 L155.59,187.91 L155.72,188.02 L155.86,188.10 L156.00,188.15 L156.14,188.18 L156.28,188.21 L156.41,188.22 L156.55,188.23 L156.69,188.24 L156.82,188.24 L156.96,188.25 L157.10,188.25 L157.24,188.25 L157.38,188.25 L157.51,188.25 L157.65,188.26 L157.79,188.26 L157.93,188.26 L158.06,188.26 L158.20,188.26 L158.34,188.26 L158.47,188.26 L158.61,188.26 L158.75,188.27 L158.89,188.27 L159.03,188.27 L159.16,188.27 L159.30,188.27 L159.44,188.27 L159.57,188.27 L159.71,188.27 L159.85,188.27 L159.99,188.27 L160.12,188.27 L160.26,188.27 L160.40,188.27 L160.54,188.27 L160.68,188.27 L160.81,188.27 L160.95,188.27 L161.09,188.27 L161.22,188.27 L161.36,188.27 L161.50,188.27 L161.64,188.27 L161.78,188.27 L161.91,188.27 L162.05,188.27 L162.19,188.27 L162.32,188.27 L162.46,188.27 L162.60,188.28 L162.74,188.28 L162.88,188.28 L163.01,188.28 L163.15,188.28 L163.29,188.28 L163.43,188.28 L163.56,188.28 L163.70,188.28 L163.84,188.28 L163.97,188.28 L164.11,188.28 L164.25,188.28 L164.39,188.28 L164.53,188.28 L164.66,188.28 L164.80,188.28 L164.94,188.28 L165.07,188.28 L165.21,188.28 L165.35,188.28 L165.49,188.28 L165.62,188.28 L165.76,188.28 L165.90,188.28 L166.04,188.28 L166.18,188.28 L166.31,188.28 L166.45,188.28 L166.59,188.28 L166.72,188.28 L166.86,188.28 L167.00,188.28" fill="none" stroke="#444" stroke-width="0.62" stroke-linejoin="round"/>
<line x1="112.00" y1="188.65" x2="167.00" y2="188.65" stroke="#555" stroke-width="0.8"/>
<line x1="112.00" y1="188.90" x2="112.00" y2="190.20" stroke="#555" stroke-width="0.5"/>
<text x="112.00" y="193.60" font-size="2.9" font-weight="bold" text-anchor="middle" fill="#222">10<tspan dy="-1" font-size="2">0</tspan></text>
<line x1="125.75" y1="188.90" x2="125.75" y2="190.20" stroke="#555" stroke-width="0.5"/>
<text x="125.75" y="193.60" font-size="2.9" font-weight="bold" text-anchor="middle" fill="#222">10<tspan dy="-1" font-size="2">1</tspan></text>
<line x1="139.50" y1="188.90" x2="139.50" y2="190.20" stroke="#555" stroke-width="0.5"/>
<text x="139.50" y="193.60" font-size="2.9" font-weight="bold" text-anchor="middle" fill="#222">10<tspan dy="-1" font-size="2">2</tspan></text>
<line x1="153.25" y1="188.90" x2="153.25" y2="190.20" stroke="#555" stroke-width="0.5"/>
<text x="153.25" y="193.60" font-size="2.9" font-weight="bold" text-anchor="middle" fill="#222">10<tspan dy="-1" font-size="2">3</tspan></text>
<line x1="167.00" y1="188.90" x2="167.00" y2="190.20" stroke="#555" stroke-width="0.5"/>
<text x="167.00" y="193.60" font-size="2.9" font-weight="bold" text-anchor="middle" fill="#222">10<tspan dy="-1" font-size="2">4</tspan></text>
<text x="139.50" y="196.70" font-size="2.7" font-weight="bold" text-anchor="middle" fill="#333">FL1-H: CFSE</text>
<line x1="110.80" y1="188.90" x2="112.00" y2="188.90" stroke="#555" stroke-width="0.5"/>
<text x="110.00" y="189.80" font-size="2.8" font-weight="bold" text-anchor="end" fill="#222">0</text>
<line x1="110.80" y1="173.10" x2="112.00" y2="173.10" stroke="#555" stroke-width="0.5"/>
<text x="110.00" y="174.00" font-size="2.8" font-weight="bold" text-anchor="end" fill="#222">50</text>
<line x1="110.80" y1="157.30" x2="112.00" y2="157.30" stroke="#555" stroke-width="0.5"/>
<text x="110.00" y="158.20" font-size="2.8" font-weight="bold" text-anchor="end" fill="#222">100</text>
<line x1="110.80" y1="141.50" x2="112.00" y2="141.50" stroke="#555" stroke-width="0.5"/>
<text x="110.00" y="142.40" font-size="2.8" font-weight="bold" text-anchor="end" fill="#222">150</text>
<text transform="translate(103.80,162.90) rotate(-90)" font-size="2.7" font-weight="bold" text-anchor="middle" fill="#333"># Cells</text>
<rect x="182.30" y="135.90" width="55.00" height="52.00" fill="none" stroke="#555" stroke-width="0.55"/>
<path d="M182.30,187.25 L182.44,187.25 L182.58,187.24 L182.71,187.24 L182.85,187.23 L182.99,187.22 L183.12,187.22 L183.26,187.21 L183.40,187.20 L183.54,187.19 L183.68,187.17 L183.81,187.16 L183.95,187.14 L184.09,187.12 L184.23,187.09 L184.36,187.07 L184.50,187.03 L184.64,187.00 L184.78,186.96 L184.91,186.91 L185.05,186.85 L185.19,186.79 L185.33,186.71 L185.46,186.63 L185.60,186.54 L185.74,186.43 L185.88,186.32 L186.01,186.18 L186.15,186.04 L186.29,185.87 L186.43,185.69 L186.56,185.49 L186.70,185.27 L186.84,185.03 L186.98,184.77 L187.11,184.49 L187.25,184.18 L187.39,183.85 L187.53,183.50 L187.66,183.12 L187.80,182.73 L187.94,182.31 L188.08,181.86 L188.21,181.40 L188.35,180.93 L188.49,180.43 L188.62,179.93 L188.76,179.41 L188.90,178.88 L189.04,178.35 L189.18,177.82 L189.31,177.29 L189.45,176.76 L189.59,176.24 L189.73,175.74 L189.86,175.25 L190.00,174.78 L190.14,174.34 L190.28,173.92 L190.41,173.53 L190.55,173.17 L190.69,172.85 L190.83,172.56 L190.96,172.31 L191.10,172.10 L191.24,171.93 L191.38,171.79 L191.51,171.69 L191.65,171.62 L191.79,171.59 L191.93,171.59 L192.06,171.62 L192.20,171.67 L192.34,171.75 L192.48,171.85 L192.61,171.96 L192.75,172.08 L192.89,172.22 L193.03,172.35 L193.16,172.48 L193.30,172.61 L193.44,172.72 L193.58,172.82 L193.71,172.88 L193.85,172.91 L193.99,172.89 L194.12,172.80 L194.26,172.64 L194.40,172.39 L194.54,172.02 L194.68,171.52 L194.81,170.88 L194.95,170.07 L195.09,169.10 L195.23,167.96 L195.36,166.65 L195.50,165.20 L195.64,163.65 L195.78,162.02 L195.91,160.37 L196.05,158.77 L196.19,157.26 L196.33,155.92 L196.46,154.79 L196.60,153.89 L196.74,153.26 L196.88,152.87 L197.01,152.69 L197.15,152.68 L197.29,152.75 L197.43,152.82 L197.56,152.79 L197.70,152.58 L197.84,152.12 L197.98,151.34 L198.11,150.24 L198.25,148.84 L198.39,147.19 L198.53,145.37 L198.66,143.52 L198.80,141.76 L198.94,140.24 L199.08,139.08 L199.21,138.40 L199.35,138.27 L199.49,138.72 L199.62,139.75 L199.76,141.28 L199.90,143.23 L200.04,145.46 L200.18,147.83 L200.31,150.20 L200.45,152.40 L200.59,154.31 L200.73,155.81 L200.86,156.83 L201.00,157.30 L201.14,157.22 L201.28,156.60 L201.41,155.48 L201.55,153.97 L201.69,152.15 L201.83,150.18 L201.96,148.19 L202.10,146.34 L202.24,144.77 L202.38,143.63 L202.51,143.00 L202.65,142.95 L202.79,143.52 L202.93,144.68 L203.06,146.36 L203.20,148.48 L203.34,150.90 L203.48,153.49 L203.61,156.09 L203.75,158.57 L203.89,160.79 L204.03,162.64 L204.16,164.05 L204.30,164.94 L204.44,165.29 L204.58,165.11 L204.71,164.44 L204.85,163.33 L204.99,161.89 L205.12,160.23 L205.26,158.51 L205.40,156.87 L205.54,155.46 L205.68,154.41 L205.81,153.83 L205.95,153.80 L206.09,154.34 L206.23,155.43 L206.36,157.01 L206.50,158.98 L206.64,161.23 L206.78,163.62 L206.91,166.00 L207.05,168.28 L207.19,170.33 L207.33,172.07 L207.46,173.47 L207.60,174.48 L207.74,175.11 L207.88,175.38 L208.01,175.32 L208.15,174.98 L208.29,174.42 L208.43,173.73 L208.56,172.97 L208.70,172.23 L208.84,171.59 L208.98,171.11 L209.11,170.84 L209.25,170.83 L209.39,171.09 L209.53,171.60 L209.66,172.35 L209.80,173.29 L209.94,174.36 L210.08,175.51 L210.21,176.67 L210.35,177.80 L210.49,178.85 L210.62,179.78 L210.76,180.58 L210.90,181.23 L211.04,181.73 L211.18,182.07 L211.31,182.27 L211.45,182.33 L211.59,182.24 L211.73,182.03 L211.86,181.71 L212.00,181.29 L212.14,180.79 L212.28,180.25 L212.41,179.70 L212.55,179.19 L212.69,178.74 L212.83,178.41 L212.96,178.22 L213.10,178.20 L213.24,178.34 L213.38,178.65 L213.51,179.10 L213.65,179.67 L213.79,180.31 L213.93,180.99 L214.06,181.67 L214.20,182.31 L214.34,182.88 L214.48,183.37 L214.61,183.77 L214.75,184.06 L214.89,184.24 L215.03,184.29 L215.16,184.21 L215.30,184.00 L215.44,183.63 L215.58,183.09 L215.71,182.38 L215.85,181.50 L215.99,180.46 L216.12,179.30 L216.26,178.06 L216.40,176.80 L216.54,175.61 L216.68,174.55 L216.81,173.72 L216.95,173.18 L217.09,172.97 L217.23,173.12 L217.36,173.63 L217.50,174.44 L217.64,175.50 L217.78,176.74 L217.91,178.07 L218.05,179.42 L218.19,180.71 L218.33,181.90 L218.46,182.94 L218.60,183.82 L218.74,184.54 L218.88,185.11 L219.01,185.53 L219.15,185.83 L219.29,186.01 L219.43,186.09 L219.56,186.08 L219.70,185.96 L219.84,185.72 L219.98,185.35 L220.11,184.81 L220.25,184.09 L220.39,183.15 L220.53,181.97 L220.66,180.55 L220.80,178.90 L220.94,177.03 L221.08,175.02 L221.21,172.93 L221.35,170.86 L221.49,168.92 L221.62,167.23 L221.76,165.91 L221.90,165.03 L222.04,164.66 L222.18,164.84 L222.31,165.55 L222.45,166.74 L222.59,168.32 L222.73,170.20 L222.86,172.26 L223.00,174.39 L223.14,176.47 L223.28,178.43 L223.41,180.21 L223.55,181.75 L223.69,183.06 L223.83,184.13 L223.96,184.98 L224.10,185.63 L224.24,186.11 L224.38,186.47 L224.51,186.72 L224.65,186.90 L224.79,187.01 L224.93,187.09 L225.06,187.14 L225.20,187.17 L225.34,187.20 L225.48,187.21 L225.61,187.22 L225.75,187.23 L225.89,187.23 L226.03,187.23 L226.16,187.24 L226.30,187.24 L226.44,187.24 L226.58,187.25 L226.71,187.25 L226.85,187.25 L226.99,187.25 L227.12,187.25 L227.26,187.26 L227.40,187.26 L227.54,187.26 L227.68,187.26 L227.81,187.26 L227.95,187.26 L228.09,187.26 L228.23,187.26 L228.36,187.27 L228.50,187.27 L228.64,187.27 L228.78,187.27 L228.91,187.27 L229.05,187.27 L229.19,187.27 L229.33,187.27 L229.46,187.27 L229.60,187.27 L229.74,187.27 L229.88,187.27 L230.01,187.27 L230.15,187.27 L230.29,187.27 L230.43,187.27 L230.56,187.27 L230.70,187.27 L230.84,187.27 L230.98,187.27 L231.11,187.27 L231.25,187.27 L231.39,187.27 L231.53,187.27 L231.66,187.27 L231.80,187.27 L231.94,187.28 L232.08,187.28 L232.21,187.28 L232.35,187.28 L232.49,187.28 L232.62,187.28 L232.76,187.28 L232.90,187.28 L233.04,187.28 L233.18,187.28 L233.31,187.28 L233.45,187.28 L233.59,187.28 L233.73,187.28 L233.86,187.28 L234.00,187.28 L234.14,187.28 L234.28,187.28 L234.41,187.28 L234.55,187.28 L234.69,187.28 L234.83,187.28 L234.96,187.28 L235.10,187.28 L235.24,187.28 L235.38,187.28 L235.51,187.28 L235.65,187.28 L235.79,187.28 L235.93,187.28 L236.06,187.28 L236.20,187.28 L236.34,187.28 L236.48,187.28 L236.61,187.28 L236.75,187.28 L236.89,187.28 L237.03,187.28 L237.16,187.28 L237.30,187.28" fill="none" stroke="#444" stroke-width="0.62" stroke-linejoin="round"/>
<line x1="182.30" y1="187.65" x2="237.30" y2="187.65" stroke="#555" stroke-width="0.8"/>
<line x1="182.30" y1="187.90" x2="182.30" y2="189.20" stroke="#555" stroke-width="0.5"/>
<text x="182.30" y="192.60" font-size="2.9" font-weight="bold" text-anchor="middle" fill="#222">10<tspan dy="-1" font-size="2">0</tspan></text>
<line x1="196.05" y1="187.90" x2="196.05" y2="189.20" stroke="#555" stroke-width="0.5"/>
<text x="196.05" y="192.60" font-size="2.9" font-weight="bold" text-anchor="middle" fill="#222">10<tspan dy="-1" font-size="2">1</tspan></text>
<line x1="209.80" y1="187.90" x2="209.80" y2="189.20" stroke="#555" stroke-width="0.5"/>
<text x="209.80" y="192.60" font-size="2.9" font-weight="bold" text-anchor="middle" fill="#222">10<tspan dy="-1" font-size="2">2</tspan></text>
<line x1="223.55" y1="187.90" x2="223.55" y2="189.20" stroke="#555" stroke-width="0.5"/>
<text x="223.55" y="192.60" font-size="2.9" font-weight="bold" text-anchor="middle" fill="#222">10<tspan dy="-1" font-size="2">3</tspan></text>
<line x1="237.30" y1="187.90" x2="237.30" y2="189.20" stroke="#555" stroke-width="0.5"/>
<text x="237.30" y="192.60" font-size="2.9" font-weight="bold" text-anchor="middle" fill="#222">10<tspan dy="-1" font-size="2">4</tspan></text>
<text x="209.80" y="195.70" font-size="2.7" font-weight="bold" text-anchor="middle" fill="#333">FL1-H: CFSE</text>
<line x1="181.10" y1="187.90" x2="182.30" y2="187.90" stroke="#555" stroke-width="0.5"/>
<text x="180.30" y="188.80" font-size="2.8" font-weight="bold" text-anchor="end" fill="#222">0</text>
<line x1="181.10" y1="172.10" x2="182.30" y2="172.10" stroke="#555" stroke-width="0.5"/>
<text x="180.30" y="173.00" font-size="2.8" font-weight="bold" text-anchor="end" fill="#222">50</text>
<line x1="181.10" y1="156.30" x2="182.30" y2="156.30" stroke="#555" stroke-width="0.5"/>
<text x="180.30" y="157.20" font-size="2.8" font-weight="bold" text-anchor="end" fill="#222">100</text>
<line x1="181.10" y1="140.50" x2="182.30" y2="140.50" stroke="#555" stroke-width="0.5"/>
<text x="180.30" y="141.40" font-size="2.8" font-weight="bold" text-anchor="end" fill="#222">150</text>
<text transform="translate(174.10,161.90) rotate(-90)" font-size="2.7" font-weight="bold" text-anchor="middle" fill="#333"># Cells</text>
<rect x="40.50" y="197.50" width="55.60" height="52.40" fill="none" stroke="#555" stroke-width="0.55"/>
<path d="M40.50,249.27 L40.64,249.27 L40.78,249.27 L40.92,249.27 L41.06,249.27 L41.20,249.27 L41.33,249.27 L41.47,249.27 L41.61,249.27 L41.75,249.27 L41.89,249.27 L42.03,249.27 L42.17,249.27 L42.31,249.27 L42.45,249.27 L42.59,249.27 L42.72,249.27 L42.86,249.27 L43.00,249.27 L43.14,249.27 L43.28,249.27 L43.42,249.27 L43.56,249.27 L43.70,249.27 L43.84,249.27 L43.98,249.27 L44.11,249.27 L44.25,249.27 L44.39,249.27 L44.53,249.27 L44.67,249.27 L44.81,249.27 L44.95,249.27 L45.09,249.27 L45.23,249.27 L45.37,249.27 L45.50,249.27 L45.64,249.27 L45.78,249.27 L45.92,249.27 L46.06,249.27 L46.20,249.27 L46.34,249.27 L46.48,249.27 L46.62,249.27 L46.76,249.27 L46.89,249.27 L47.03,249.27 L47.17,249.27 L47.31,249.27 L47.45,249.27 L47.59,249.27 L47.73,249.27 L47.87,249.27 L48.01,249.27 L48.14,249.27 L48.28,249.27 L48.42,249.27 L48.56,249.27 L48.70,249.27 L48.84,249.27 L48.98,249.27 L49.12,249.27 L49.26,249.27 L49.40,249.27 L49.53,249.27 L49.67,249.27 L49.81,249.27 L49.95,249.27 L50.09,249.27 L50.23,249.27 L50.37,249.27 L50.51,249.27 L50.65,249.27 L50.79,249.27 L50.92,249.27 L51.06,249.27 L51.20,249.27 L51.34,249.27 L51.48,249.26 L51.62,249.26 L51.76,249.25 L51.90,249.25 L52.04,249.24 L52.18,249.22 L52.31,249.21 L52.45,249.19 L52.59,249.16 L52.73,249.13 L52.87,249.09 L53.01,249.04 L53.15,248.99 L53.29,248.93 L53.43,248.86 L53.57,248.79 L53.70,248.71 L53.84,248.63 L53.98,248.55 L54.12,248.48 L54.26,248.40 L54.40,248.34 L54.54,248.29 L54.68,248.25 L54.82,248.23 L54.96,248.22 L55.09,248.22 L55.23,248.25 L55.37,248.29 L55.51,248.34 L55.65,248.40 L55.79,248.47 L55.93,248.54 L56.07,248.62 L56.21,248.70 L56.35,248.78 L56.48,248.85 L56.62,248.91 L56.76,248.97 L56.90,249.02 L57.04,249.07 L57.18,249.11 L57.32,249.14 L57.46,249.16 L57.60,249.18 L57.74,249.19 L57.88,249.20 L58.01,249.21 L58.15,249.22 L58.29,249.22 L58.43,249.22 L58.57,249.22 L58.71,249.22 L58.85,249.21 L58.99,249.21 L59.13,249.21 L59.27,249.20 L59.40,249.20 L59.54,249.19 L59.68,249.19 L59.82,249.18 L59.96,249.18 L60.10,249.17 L60.24,249.16 L60.38,249.16 L60.52,249.15 L60.66,249.14 L60.79,249.13 L60.93,249.11 L61.07,249.09 L61.21,249.07 L61.35,249.04 L61.49,249.01 L61.63,248.97 L61.77,248.92 L61.91,248.85 L62.05,248.78 L62.18,248.69 L62.32,248.58 L62.46,248.45 L62.60,248.30 L62.74,248.14 L62.88,247.95 L63.02,247.76 L63.16,247.55 L63.30,247.34 L63.43,247.12 L63.57,246.91 L63.71,246.71 L63.85,246.53 L63.99,246.37 L64.13,246.23 L64.27,246.11 L64.41,246.02 L64.55,245.94 L64.69,245.86 L64.82,245.76 L64.96,245.63 L65.10,245.45 L65.24,245.19 L65.38,244.85 L65.52,244.41 L65.66,243.88 L65.80,243.26 L65.94,242.58 L66.08,241.87 L66.22,241.19 L66.35,240.59 L66.49,240.11 L66.63,239.80 L66.77,239.69 L66.91,239.79 L67.05,240.11 L67.19,240.61 L67.33,241.26 L67.47,242.02 L67.60,242.82 L67.74,243.61 L67.88,244.35 L68.02,245.00 L68.16,245.51 L68.30,245.88 L68.44,246.09 L68.58,246.11 L68.72,245.96 L68.86,245.63 L68.99,245.11 L69.13,244.43 L69.27,243.58 L69.41,242.59 L69.55,241.51 L69.69,240.36 L69.83,239.21 L69.97,238.11 L70.11,237.13 L70.25,236.34 L70.38,235.78 L70.52,235.49 L70.66,235.49 L70.80,235.78 L70.94,236.34 L71.08,237.12 L71.22,238.07 L71.36,239.12 L71.50,240.20 L71.64,241.27 L71.78,242.25 L71.91,243.10 L72.05,243.79 L72.19,244.29 L72.33,244.59 L72.47,244.66 L72.61,244.52 L72.75,244.17 L72.89,243.60 L73.03,242.84 L73.16,241.92 L73.30,240.86 L73.44,239.72 L73.58,238.56 L73.72,237.44 L73.86,236.43 L74.00,235.59 L74.14,234.98 L74.28,234.66 L74.42,234.63 L74.56,234.91 L74.69,235.47 L74.83,236.27 L74.97,237.27 L75.11,238.38 L75.25,239.55 L75.39,240.70 L75.53,241.78 L75.67,242.74 L75.81,243.54 L75.94,244.15 L76.08,244.54 L76.22,244.72 L76.36,244.67 L76.50,244.41 L76.64,243.92 L76.78,243.24 L76.92,242.38 L77.06,241.38 L77.20,240.29 L77.33,239.16 L77.47,238.05 L77.61,237.04 L77.75,236.19 L77.89,235.57 L78.03,235.21 L78.17,235.15 L78.31,235.39 L78.45,235.92 L78.59,236.71 L78.72,237.69 L78.86,238.82 L79.00,240.01 L79.14,241.21 L79.28,242.36 L79.42,243.40 L79.56,244.29 L79.70,245.01 L79.84,245.54 L79.98,245.87 L80.11,245.98 L80.25,245.88 L80.39,245.56 L80.53,245.03 L80.67,244.31 L80.81,243.42 L80.95,242.40 L81.09,241.29 L81.23,240.17 L81.37,239.09 L81.50,238.13 L81.64,237.34 L81.78,236.78 L81.92,236.46 L82.06,236.36 L82.20,236.46 L82.34,236.67 L82.48,236.90 L82.62,237.03 L82.76,236.94 L82.89,236.50 L83.03,235.63 L83.17,234.25 L83.31,232.31 L83.45,229.81 L83.59,226.79 L83.73,223.34 L83.87,219.58 L84.01,215.67 L84.15,211.78 L84.28,208.11 L84.42,204.87 L84.56,202.23 L84.70,200.35 L84.84,199.34 L84.98,199.27 L85.12,200.15 L85.26,201.92 L85.40,204.50 L85.54,207.74 L85.67,211.48 L85.81,215.53 L85.95,219.72 L86.09,223.88 L86.23,227.87 L86.37,231.57 L86.51,234.90 L86.65,237.82 L86.79,240.32 L86.93,242.40 L87.06,244.09 L87.20,245.43 L87.34,246.48 L87.48,247.27 L87.62,247.85 L87.76,248.28 L87.90,248.58 L88.04,248.80 L88.18,248.94 L88.32,249.04 L88.45,249.11 L88.59,249.15 L88.73,249.18 L88.87,249.20 L89.01,249.21 L89.15,249.22 L89.29,249.22 L89.43,249.23 L89.57,249.23 L89.71,249.23 L89.84,249.24 L89.98,249.24 L90.12,249.24 L90.26,249.24 L90.40,249.25 L90.54,249.25 L90.68,249.25 L90.82,249.25 L90.96,249.25 L91.10,249.25 L91.23,249.26 L91.37,249.26 L91.51,249.26 L91.65,249.26 L91.79,249.26 L91.93,249.26 L92.07,249.26 L92.21,249.26 L92.35,249.26 L92.49,249.26 L92.62,249.26 L92.76,249.26 L92.90,249.27 L93.04,249.27 L93.18,249.27 L93.32,249.27 L93.46,249.27 L93.60,249.27 L93.74,249.27 L93.88,249.27 L94.01,249.27 L94.15,249.27 L94.29,249.27 L94.43,249.27 L94.57,249.27 L94.71,249.27 L94.85,249.27 L94.99,249.27 L95.13,249.27 L95.27,249.27 L95.41,249.27 L95.54,249.27 L95.68,249.27 L95.82,249.27 L95.96,249.27 L96.10,249.27" fill="none" stroke="#444" stroke-width="0.62" stroke-linejoin="round"/>
<line x1="40.50" y1="249.65" x2="96.10" y2="249.65" stroke="#555" stroke-width="0.8"/>
<line x1="40.50" y1="249.90" x2="40.50" y2="251.20" stroke="#555" stroke-width="0.5"/>
<text x="40.50" y="254.60" font-size="2.9" font-weight="bold" text-anchor="middle" fill="#222">10<tspan dy="-1" font-size="2">0</tspan></text>
<line x1="54.40" y1="249.90" x2="54.40" y2="251.20" stroke="#555" stroke-width="0.5"/>
<text x="54.40" y="254.60" font-size="2.9" font-weight="bold" text-anchor="middle" fill="#222">10<tspan dy="-1" font-size="2">1</tspan></text>
<line x1="68.30" y1="249.90" x2="68.30" y2="251.20" stroke="#555" stroke-width="0.5"/>
<text x="68.30" y="254.60" font-size="2.9" font-weight="bold" text-anchor="middle" fill="#222">10<tspan dy="-1" font-size="2">2</tspan></text>
<line x1="82.20" y1="249.90" x2="82.20" y2="251.20" stroke="#555" stroke-width="0.5"/>
<text x="82.20" y="254.60" font-size="2.9" font-weight="bold" text-anchor="middle" fill="#222">10<tspan dy="-1" font-size="2">3</tspan></text>
<line x1="96.10" y1="249.90" x2="96.10" y2="251.20" stroke="#555" stroke-width="0.5"/>
<text x="96.10" y="254.60" font-size="2.9" font-weight="bold" text-anchor="middle" fill="#222">10<tspan dy="-1" font-size="2">4</tspan></text>
<text x="68.30" y="257.70" font-size="2.7" font-weight="bold" text-anchor="middle" fill="#333">FL1-H: CFSE</text>
<line x1="39.30" y1="249.90" x2="40.50" y2="249.90" stroke="#555" stroke-width="0.5"/>
<text x="38.50" y="250.80" font-size="2.8" font-weight="bold" text-anchor="end" fill="#222">0</text>
<line x1="39.30" y1="237.95" x2="40.50" y2="237.95" stroke="#555" stroke-width="0.5"/>
<text x="38.50" y="238.85" font-size="2.8" font-weight="bold" text-anchor="end" fill="#222">20</text>
<line x1="39.30" y1="226.00" x2="40.50" y2="226.00" stroke="#555" stroke-width="0.5"/>
<text x="38.50" y="226.90" font-size="2.8" font-weight="bold" text-anchor="end" fill="#222">40</text>
<line x1="39.30" y1="214.05" x2="40.50" y2="214.05" stroke="#555" stroke-width="0.5"/>
<text x="38.50" y="214.95" font-size="2.8" font-weight="bold" text-anchor="end" fill="#222">60</text>
<line x1="39.30" y1="202.10" x2="40.50" y2="202.10" stroke="#555" stroke-width="0.5"/>
<text x="38.50" y="203.00" font-size="2.8" font-weight="bold" text-anchor="end" fill="#222">80</text>
<text transform="translate(32.30,223.70) rotate(-90)" font-size="2.7" font-weight="bold" text-anchor="middle" fill="#333"># Cells</text>
<rect x="113.00" y="197.90" width="55.00" height="52.60" fill="none" stroke="#555" stroke-width="0.55"/>
<path d="M113.00,249.87 L113.14,249.87 L113.28,249.87 L113.41,249.87 L113.55,249.87 L113.69,249.87 L113.83,249.87 L113.96,249.87 L114.10,249.87 L114.24,249.87 L114.38,249.87 L114.51,249.87 L114.65,249.87 L114.79,249.87 L114.92,249.87 L115.06,249.87 L115.20,249.87 L115.34,249.87 L115.47,249.87 L115.61,249.87 L115.75,249.87 L115.89,249.87 L116.03,249.87 L116.16,249.87 L116.30,249.87 L116.44,249.87 L116.58,249.87 L116.71,249.87 L116.85,249.87 L116.99,249.87 L117.12,249.87 L117.26,249.87 L117.40,249.87 L117.54,249.87 L117.67,249.87 L117.81,249.87 L117.95,249.87 L118.09,249.87 L118.22,249.87 L118.36,249.87 L118.50,249.87 L118.64,249.87 L118.78,249.87 L118.91,249.87 L119.05,249.87 L119.19,249.87 L119.33,249.86 L119.46,249.86 L119.60,249.86 L119.74,249.86 L119.88,249.86 L120.01,249.86 L120.15,249.86 L120.29,249.86 L120.42,249.86 L120.56,249.86 L120.70,249.86 L120.84,249.86 L120.97,249.86 L121.11,249.86 L121.25,249.86 L121.39,249.85 L121.53,249.85 L121.66,249.85 L121.80,249.85 L121.94,249.85 L122.08,249.85 L122.21,249.84 L122.35,249.84 L122.49,249.84 L122.62,249.84 L122.76,249.84 L122.90,249.83 L123.04,249.83 L123.17,249.83 L123.31,249.82 L123.45,249.82 L123.59,249.82 L123.72,249.81 L123.86,249.81 L124.00,249.80 L124.14,249.80 L124.28,249.79 L124.41,249.78 L124.55,249.78 L124.69,249.77 L124.83,249.76 L124.96,249.75 L125.10,249.73 L125.24,249.72 L125.38,249.70 L125.51,249.68 L125.65,249.66 L125.79,249.63 L125.92,249.60 L126.06,249.56 L126.20,249.52 L126.34,249.47 L126.47,249.42 L126.61,249.36 L126.75,249.29 L126.89,249.21 L127.03,249.13 L127.16,249.03 L127.30,248.93 L127.44,248.82 L127.58,248.70 L127.71,248.57 L127.85,248.44 L127.99,248.30 L128.12,248.15 L128.26,248.00 L128.40,247.85 L128.54,247.69 L128.68,247.54 L128.81,247.39 L128.95,247.24 L129.09,247.11 L129.22,246.98 L129.36,246.86 L129.50,246.75 L129.64,246.66 L129.78,246.59 L129.91,246.52 L130.05,246.48 L130.19,246.44 L130.32,246.42 L130.46,246.40 L130.60,246.38 L130.74,246.37 L130.88,246.33 L131.01,246.28 L131.15,246.18 L131.29,246.04 L131.43,245.84 L131.56,245.56 L131.70,245.18 L131.84,244.71 L131.97,244.12 L132.11,243.42 L132.25,242.62 L132.39,241.72 L132.53,240.76 L132.66,239.76 L132.80,238.76 L132.94,237.80 L133.07,236.93 L133.21,236.20 L133.35,235.64 L133.49,235.29 L133.62,235.17 L133.76,235.29 L133.90,235.63 L134.04,236.17 L134.18,236.89 L134.31,237.73 L134.45,238.65 L134.59,239.58 L134.72,240.47 L134.86,241.26 L135.00,241.86 L135.14,242.24 L135.28,242.32 L135.41,242.04 L135.55,241.35 L135.69,240.22 L135.82,238.63 L135.96,236.59 L136.10,234.13 L136.24,231.36 L136.38,228.38 L136.51,225.38 L136.65,222.53 L136.79,220.05 L136.93,218.11 L137.06,216.86 L137.20,216.42 L137.34,216.81 L137.47,218.00 L137.61,219.89 L137.75,222.31 L137.89,225.09 L138.03,228.00 L138.16,230.84 L138.30,233.44 L138.44,235.63 L138.57,237.31 L138.71,238.39 L138.85,238.83 L138.99,238.61 L139.12,237.76 L139.26,236.32 L139.40,234.38 L139.54,232.05 L139.68,229.47 L139.81,226.82 L139.95,224.29 L140.09,222.07 L140.22,220.34 L140.36,219.25 L140.50,218.89 L140.64,219.29 L140.78,220.44 L140.91,222.23 L141.05,224.53 L141.19,227.17 L141.32,229.99 L141.46,232.81 L141.60,235.48 L141.74,237.91 L141.88,240.03 L142.01,241.79 L142.15,243.20 L142.29,244.28 L142.43,245.04 L142.56,245.53 L142.70,245.77 L142.84,245.77 L142.97,245.55 L143.11,245.11 L143.25,244.44 L143.39,243.54 L143.53,242.39 L143.66,241.00 L143.80,239.39 L143.94,237.61 L144.07,235.70 L144.21,233.76 L144.35,231.88 L144.49,230.17 L144.62,228.74 L144.76,227.68 L144.90,227.08 L145.04,226.97 L145.18,227.38 L145.31,228.26 L145.45,229.58 L145.59,231.23 L145.72,233.11 L145.86,235.12 L146.00,237.14 L146.14,239.09 L146.28,240.88 L146.41,242.47 L146.55,243.82 L146.69,244.90 L146.82,245.72 L146.96,246.28 L147.10,246.58 L147.24,246.62 L147.38,246.42 L147.51,245.96 L147.65,245.25 L147.79,244.29 L147.93,243.09 L148.06,241.66 L148.20,240.05 L148.34,238.31 L148.47,236.51 L148.61,234.74 L148.75,233.11 L148.89,231.72 L149.03,230.65 L149.16,229.99 L149.30,229.78 L149.44,230.04 L149.57,230.75 L149.71,231.87 L149.85,233.31 L149.99,234.98 L150.12,236.77 L150.26,238.59 L150.40,240.33 L150.54,241.91 L150.68,243.27 L150.81,244.36 L150.95,245.15 L151.09,245.62 L151.22,245.74 L151.36,245.51 L151.50,244.91 L151.64,243.93 L151.78,242.55 L151.91,240.76 L152.05,238.56 L152.19,235.94 L152.32,232.92 L152.46,229.56 L152.60,225.91 L152.74,222.07 L152.88,218.14 L153.01,214.27 L153.15,210.60 L153.29,207.30 L153.43,204.50 L153.56,202.34 L153.70,200.93 L153.84,200.34 L153.97,200.60 L154.11,201.70 L154.25,203.59 L154.39,206.16 L154.53,209.29 L154.66,212.85 L154.80,216.67 L154.94,220.61 L155.07,224.52 L155.21,228.29 L155.35,231.81 L155.49,235.01 L155.62,237.86 L155.76,240.32 L155.90,242.41 L156.04,244.14 L156.18,245.54 L156.31,246.66 L156.45,247.52 L156.59,248.18 L156.72,248.68 L156.86,249.04 L157.00,249.30 L157.14,249.48 L157.28,249.61 L157.41,249.70 L157.55,249.76 L157.69,249.79 L157.82,249.82 L157.96,249.84 L158.10,249.85 L158.24,249.85 L158.38,249.86 L158.51,249.86 L158.65,249.86 L158.79,249.86 L158.93,249.86 L159.06,249.86 L159.20,249.86 L159.34,249.86 L159.47,249.86 L159.61,249.87 L159.75,249.87 L159.89,249.87 L160.03,249.87 L160.16,249.87 L160.30,249.87 L160.44,249.87 L160.57,249.87 L160.71,249.87 L160.85,249.87 L160.99,249.87 L161.12,249.87 L161.26,249.87 L161.40,249.87 L161.54,249.87 L161.68,249.87 L161.81,249.87 L161.95,249.87 L162.09,249.87 L162.22,249.87 L162.36,249.87 L162.50,249.87 L162.64,249.87 L162.78,249.87 L162.91,249.87 L163.05,249.87 L163.19,249.87 L163.32,249.87 L163.46,249.87 L163.60,249.87 L163.74,249.87 L163.88,249.87 L164.01,249.87 L164.15,249.87 L164.29,249.87 L164.43,249.87 L164.56,249.87 L164.70,249.87 L164.84,249.87 L164.97,249.87 L165.11,249.87 L165.25,249.87 L165.39,249.87 L165.53,249.87 L165.66,249.87 L165.80,249.87 L165.94,249.87 L166.07,249.87 L166.21,249.87 L166.35,249.87 L166.49,249.87 L166.62,249.87 L166.76,249.87 L166.90,249.87 L167.04,249.87 L167.18,249.87 L167.31,249.87 L167.45,249.87 L167.59,249.87 L167.72,249.87 L167.86,249.87 L168.00,249.87" fill="none" stroke="#444" stroke-width="0.62" stroke-linejoin="round"/>
<line x1="113.00" y1="250.25" x2="168.00" y2="250.25" stroke="#555" stroke-width="0.8"/>
<line x1="113.00" y1="250.50" x2="113.00" y2="251.80" stroke="#555" stroke-width="0.5"/>
<text x="113.00" y="255.20" font-size="2.9" font-weight="bold" text-anchor="middle" fill="#222">10<tspan dy="-1" font-size="2">0</tspan></text>
<line x1="126.75" y1="250.50" x2="126.75" y2="251.80" stroke="#555" stroke-width="0.5"/>
<text x="126.75" y="255.20" font-size="2.9" font-weight="bold" text-anchor="middle" fill="#222">10<tspan dy="-1" font-size="2">1</tspan></text>
<line x1="140.50" y1="250.50" x2="140.50" y2="251.80" stroke="#555" stroke-width="0.5"/>
<text x="140.50" y="255.20" font-size="2.9" font-weight="bold" text-anchor="middle" fill="#222">10<tspan dy="-1" font-size="2">2</tspan></text>
<line x1="154.25" y1="250.50" x2="154.25" y2="251.80" stroke="#555" stroke-width="0.5"/>
<text x="154.25" y="255.20" font-size="2.9" font-weight="bold" text-anchor="middle" fill="#222">10<tspan dy="-1" font-size="2">3</tspan></text>
<line x1="168.00" y1="250.50" x2="168.00" y2="251.80" stroke="#555" stroke-width="0.5"/>
<text x="168.00" y="255.20" font-size="2.9" font-weight="bold" text-anchor="middle" fill="#222">10<tspan dy="-1" font-size="2">4</tspan></text>
<text x="140.50" y="258.30" font-size="2.7" font-weight="bold" text-anchor="middle" fill="#333">FL1-H: CFSE</text>
<line x1="111.80" y1="250.50" x2="113.00" y2="250.50" stroke="#555" stroke-width="0.5"/>
<text x="111.00" y="251.40" font-size="2.8" font-weight="bold" text-anchor="end" fill="#222">0</text>
<line x1="111.80" y1="238.50" x2="113.00" y2="238.50" stroke="#555" stroke-width="0.5"/>
<text x="111.00" y="239.40" font-size="2.8" font-weight="bold" text-anchor="end" fill="#222">20</text>
<line x1="111.80" y1="226.50" x2="113.00" y2="226.50" stroke="#555" stroke-width="0.5"/>
<text x="111.00" y="227.40" font-size="2.8" font-weight="bold" text-anchor="end" fill="#222">40</text>
<line x1="111.80" y1="214.50" x2="113.00" y2="214.50" stroke="#555" stroke-width="0.5"/>
<text x="111.00" y="215.40" font-size="2.8" font-weight="bold" text-anchor="end" fill="#222">60</text>
<line x1="111.80" y1="202.50" x2="113.00" y2="202.50" stroke="#555" stroke-width="0.5"/>
<text x="111.00" y="203.40" font-size="2.8" font-weight="bold" text-anchor="end" fill="#222">80</text>
<text transform="translate(104.80,224.20) rotate(-90)" font-size="2.7" font-weight="bold" text-anchor="middle" fill="#333"># Cells</text>
<text x="13" y="16" font-size="14.5" font-weight="bold" font-style="normal" text-anchor="middle" >A</text>
<text x="67.4" y="7.9" font-size="7.6" font-weight="bold" font-style="normal" text-anchor="middle" >Thy-B</text>
<text x="138.5" y="7.9" font-size="7.7" font-weight="bold" font-style="normal" text-anchor="middle" >Txy</text>
<text x="209.1" y="7.9" font-size="7.8" font-weight="bold" font-style="italic" text-anchor="middle" >Rag1-/-</text>
<text x="1.6" y="39.5" font-size="7.8" font-weight="bold" font-style="italic" textLength="26.20" lengthAdjust="spacingAndGlyphs">pmel-1</text>
<text x="1.0" y="92.8" font-size="7.8" font-weight="bold" font-style="italic" textLength="26.80" lengthAdjust="spacingAndGlyphs">pmel-1</text>
<text x="23.3" y="101.9" font-size="7.8" font-weight="bold" font-style="normal" text-anchor="middle" >+</text>
<text x="1.4" y="112.8" font-size="7.8" font-weight="bold" font-style="normal" textLength="24.40" lengthAdjust="spacingAndGlyphs">αCD25</text>
<text x="1.0" y="152.7" font-size="7.8" font-weight="bold" font-style="italic" textLength="26.80" lengthAdjust="spacingAndGlyphs">pmel-1</text>
<text x="23.3" y="161.6" font-size="7.8" font-weight="bold" font-style="normal" text-anchor="middle" >+</text>
<text x="7.0" y="171.8" font-size="7.8" font-weight="bold" font-style="normal" textLength="18.50" lengthAdjust="spacingAndGlyphs">rhIL7</text>
<text x="4.7" y="215.0" font-size="7.8" font-weight="bold" font-style="italic" textLength="26.10" lengthAdjust="spacingAndGlyphs">pmel-1</text>
<text x="0.9" y="224.3" font-size="7.8" font-weight="bold" font-style="normal" textLength="29.90" lengthAdjust="spacingAndGlyphs">+αCD25</text>
<text x="7.3" y="233.8" font-size="7.8" font-weight="bold" font-style="normal" textLength="22.80" lengthAdjust="spacingAndGlyphs">+rhIL7</text>
<text x="61.3" y="265.9" font-size="8.4" font-weight="bold" font-style="normal" text-anchor="middle" textLength="20.6" lengthAdjust="spacingAndGlyphs">CSFE</text>
<line x1="76" y1="263.2" x2="233" y2="263.2" stroke="#000" stroke-width="1.4"/>
<path d="M231.5,260.1 L237.5,262.9 L231.5,265.7 Z" fill="#000"/>
<text x="255.0" y="11.6" font-size="13.5" font-weight="bold" font-style="normal" text-anchor="middle" >B</text>
<line x1="304.2" y1="87.9" x2="520" y2="87.9" stroke="#000" stroke-width="1.8"/>
<line x1="305" y1="20" x2="305" y2="88.60000000000001" stroke="#000" stroke-width="1.8"/>
<line x1="305" y1="4" x2="305" y2="14.6" stroke="#000" stroke-width="1.8"/>
<line x1="301.5" y1="20.3" x2="305" y2="20.3" stroke="#000" stroke-width="1.4"/>
<text transform="translate(298.7,23.30) scale(0.86,1)" font-size="7.1" font-weight="bold" stroke="#000" stroke-width="0.2" text-anchor="end">15</text>
<line x1="301.5" y1="33.8" x2="305" y2="33.8" stroke="#000" stroke-width="1.4"/>
<text transform="translate(298.7,36.80) scale(0.86,1)" font-size="7.1" font-weight="bold" stroke="#000" stroke-width="0.2" text-anchor="end">12</text>
<line x1="301.5" y1="47.3" x2="305" y2="47.3" stroke="#000" stroke-width="1.4"/>
<text transform="translate(298.7,50.30) scale(0.86,1)" font-size="7.1" font-weight="bold" stroke="#000" stroke-width="0.2" text-anchor="end">9</text>
<line x1="301.5" y1="60.8" x2="305" y2="60.8" stroke="#000" stroke-width="1.4"/>
<text transform="translate(298.7,63.80) scale(0.86,1)" font-size="7.1" font-weight="bold" stroke="#000" stroke-width="0.2" text-anchor="end">6</text>
<line x1="301.5" y1="74.4" x2="305" y2="74.4" stroke="#000" stroke-width="1.4"/>
<text transform="translate(298.7,77.40) scale(0.86,1)" font-size="7.1" font-weight="bold" stroke="#000" stroke-width="0.2" text-anchor="end">3</text>
<line x1="301.5" y1="87.9" x2="305" y2="87.9" stroke="#000" stroke-width="1.4"/>
<text transform="translate(298.7,90.90) scale(0.86,1)" font-size="7.1" font-weight="bold" stroke="#000" stroke-width="0.2" text-anchor="end">0</text>
<line x1="300.9" y1="4.4" x2="305.9" y2="4.4" stroke="#000" stroke-width="1.3"/>
<line x1="300.9" y1="9.2" x2="305" y2="9.2" stroke="#000" stroke-width="1.3"/>
<line x1="300.9" y1="14.3" x2="307.9" y2="14.3" stroke="#000" stroke-width="1.3"/>
<line x1="300.9" y1="20.6" x2="307.9" y2="20.6" stroke="#000" stroke-width="1.3"/>
<text x="297.6" y="6.30" font-size="5.7" font-weight="bold" text-anchor="end" textLength="5.3" lengthAdjust="spacingAndGlyphs">35</text>
<text x="297.6" y="9.40" font-size="5.7" font-weight="bold" text-anchor="end" textLength="5.3" lengthAdjust="spacingAndGlyphs">25</text>
<text x="297.6" y="12.20" font-size="5.7" font-weight="bold" text-anchor="end" textLength="5.3" lengthAdjust="spacingAndGlyphs">23</text>
<text x="297.6" y="16.90" font-size="5.7" font-weight="bold" text-anchor="end" textLength="5.3" lengthAdjust="spacingAndGlyphs">15</text>
<text transform="translate(285.0,93.2) rotate(-90)" font-size="6.3" textLength="91" lengthAdjust="spacingAndGlyphs"><tspan font-style="italic">pmel-1</tspan> cell number (x10<tspan dy="-2" font-size="4.2">4</tspan><tspan dy="2">)</tspan></text>
<rect x="314.7" y="1.3" width="10.9" height="3.5" fill="#c6c6c6" stroke="#000" stroke-width="1.1"/>
<text x="330" y="5.40" font-size="6.4"><tspan font-style="italic">pmel-1</tspan></text>
<rect x="314.7" y="10.65" width="10.9" height="3.5" fill="#5a5a5a" stroke="#000" stroke-width="1.1"/>
<text x="330" y="14.75" font-size="6.4"><tspan font-style="italic">pmel-1</tspan> + αCD25</text>
<rect x="314.2" y="19.5" width="11.9" height="4.5" fill="#000"/>
<rect x="316.00" y="21.00" width="1.3" height="1.3" fill="#fff"/>
<rect x="318.70" y="21.00" width="1.3" height="1.3" fill="#fff"/>
<rect x="321.40" y="21.00" width="1.3" height="1.3" fill="#fff"/>
<rect x="324.10" y="21.00" width="1.3" height="1.3" fill="#fff"/>
<text x="330" y="24.10" font-size="6.4"><tspan font-style="italic">pmel-1</tspan> + rhIL7</text>
<rect x="314.7" y="29.349999999999998" width="10.9" height="3.5" fill="#303030" stroke="#000" stroke-width="1.1"/>
<text x="330" y="33.45" font-size="6.4"><tspan font-style="italic">pmel-1</tspan> + αCD25 + rhIL7</text>
<rect x="308.05" y="74.45" width="3.40" height="13.45" fill="#c6c6c6" stroke="#000" stroke-width="0.95"/>
<line x1="309.75" y1="74.00" x2="309.75" y2="73.20" stroke="#000" stroke-width="1.0"/>
<line x1="308.25" y1="73.20" x2="311.25" y2="73.20" stroke="#000" stroke-width="1.0"/>
<rect x="312.90" y="74.05" width="3.40" height="13.85" fill="#5a5a5a" stroke="#000" stroke-width="0.95"/>
<line x1="314.60" y1="73.60" x2="314.60" y2="71.60" stroke="#000" stroke-width="1.0"/>
<line x1="313.10" y1="71.60" x2="316.10" y2="71.60" stroke="#000" stroke-width="1.0"/>
<rect x="317.30" y="73.00" width="4.30" height="14.90" fill="#000"/>
<rect x="318.70" y="85.15" width="1.5" height="1.5" fill="#fff"/>
<rect x="318.70" y="82.10" width="1.5" height="1.5" fill="#fff"/>
<rect x="318.70" y="79.05" width="1.5" height="1.5" fill="#fff"/>
<rect x="318.70" y="76.00" width="1.5" height="1.5" fill="#fff"/>
<line x1="319.45" y1="73.00" x2="319.45" y2="72.00" stroke="#000" stroke-width="1.0"/>
<line x1="317.95" y1="72.00" x2="320.95" y2="72.00" stroke="#000" stroke-width="1.0"/>
<rect x="322.60" y="72.45" width="3.40" height="15.45" fill="#303030" stroke="#000" stroke-width="0.95"/>
<line x1="324.30" y1="72.00" x2="324.30" y2="71.20" stroke="#000" stroke-width="1.0"/>
<line x1="322.80" y1="71.20" x2="325.80" y2="71.20" stroke="#000" stroke-width="1.0"/>
<rect x="331.45" y="78.45" width="3.40" height="9.45" fill="#c6c6c6" stroke="#000" stroke-width="0.95"/>
<line x1="333.15" y1="78.00" x2="333.15" y2="75.00" stroke="#000" stroke-width="1.0"/>
<line x1="331.65" y1="75.00" x2="334.65" y2="75.00" stroke="#000" stroke-width="1.0"/>
<rect x="336.30" y="74.85" width="3.40" height="13.05" fill="#5a5a5a" stroke="#000" stroke-width="0.95"/>
<line x1="338.00" y1="74.40" x2="338.00" y2="71.60" stroke="#000" stroke-width="1.0"/>
<line x1="336.50" y1="71.60" x2="339.50" y2="71.60" stroke="#000" stroke-width="1.0"/>
<rect x="340.70" y="68.00" width="4.30" height="19.90" fill="#000"/>
<rect x="342.10" y="85.15" width="1.5" height="1.5" fill="#fff"/>
<rect x="342.10" y="82.10" width="1.5" height="1.5" fill="#fff"/>
<rect x="342.10" y="79.05" width="1.5" height="1.5" fill="#fff"/>
<rect x="342.10" y="76.00" width="1.5" height="1.5" fill="#fff"/>
<rect x="342.10" y="72.95" width="1.5" height="1.5" fill="#fff"/>
<rect x="342.10" y="69.90" width="1.5" height="1.5" fill="#fff"/>
<line x1="342.85" y1="68.00" x2="342.85" y2="63.00" stroke="#000" stroke-width="1.0"/>
<line x1="341.35" y1="63.00" x2="344.35" y2="63.00" stroke="#000" stroke-width="1.0"/>
<rect x="346.00" y="65.05" width="3.40" height="22.85" fill="#303030" stroke="#000" stroke-width="0.95"/>
<line x1="347.70" y1="64.60" x2="347.70" y2="58.40" stroke="#000" stroke-width="1.0"/>
<line x1="346.20" y1="58.40" x2="349.20" y2="58.40" stroke="#000" stroke-width="1.0"/>
<rect x="355.45" y="82.45" width="3.40" height="5.45" fill="#c6c6c6" stroke="#000" stroke-width="0.95"/>
<line x1="357.15" y1="82.00" x2="357.15" y2="81.40" stroke="#000" stroke-width="1.0"/>
<line x1="355.65" y1="81.40" x2="358.65" y2="81.40" stroke="#000" stroke-width="1.0"/>
<rect x="360.30" y="83.45" width="3.40" height="4.45" fill="#5a5a5a" stroke="#000" stroke-width="0.95"/>
<line x1="362.00" y1="83.00" x2="362.00" y2="82.40" stroke="#000" stroke-width="1.0"/>
<line x1="360.50" y1="82.40" x2="363.50" y2="82.40" stroke="#000" stroke-width="1.0"/>
<rect x="364.70" y="75.60" width="4.30" height="12.30" fill="#000"/>
<rect x="366.10" y="85.15" width="1.5" height="1.5" fill="#fff"/>
<rect x="366.10" y="82.10" width="1.5" height="1.5" fill="#fff"/>
<rect x="366.10" y="79.05" width="1.5" height="1.5" fill="#fff"/>
<rect x="366.10" y="76.00" width="1.5" height="1.5" fill="#fff"/>
<line x1="366.85" y1="75.60" x2="366.85" y2="70.00" stroke="#000" stroke-width="1.0"/>
<line x1="365.35" y1="70.00" x2="368.35" y2="70.00" stroke="#000" stroke-width="1.0"/>
<rect x="370.00" y="80.05" width="3.40" height="7.85" fill="#303030" stroke="#000" stroke-width="0.95"/>
<line x1="371.70" y1="79.60" x2="371.70" y2="77.00" stroke="#000" stroke-width="1.0"/>
<line x1="370.20" y1="77.00" x2="373.20" y2="77.00" stroke="#000" stroke-width="1.0"/>
<rect x="378.85" y="72.85" width="3.40" height="15.05" fill="#c6c6c6" stroke="#000" stroke-width="0.95"/>
<line x1="380.55" y1="72.40" x2="380.55" y2="69.00" stroke="#000" stroke-width="1.0"/>
<line x1="379.05" y1="69.00" x2="382.05" y2="69.00" stroke="#000" stroke-width="1.0"/>
<rect x="383.70" y="68.45" width="3.40" height="19.45" fill="#5a5a5a" stroke="#000" stroke-width="0.95"/>
<line x1="385.40" y1="68.00" x2="385.40" y2="66.40" stroke="#000" stroke-width="1.0"/>
<line x1="383.90" y1="66.40" x2="386.90" y2="66.40" stroke="#000" stroke-width="1.0"/>
<rect x="388.10" y="61.60" width="4.30" height="26.30" fill="#000"/>
<rect x="389.50" y="85.15" width="1.5" height="1.5" fill="#fff"/>
<rect x="389.50" y="82.10" width="1.5" height="1.5" fill="#fff"/>
<rect x="389.50" y="79.05" width="1.5" height="1.5" fill="#fff"/>
<rect x="389.50" y="76.00" width="1.5" height="1.5" fill="#fff"/>
<rect x="389.50" y="72.95" width="1.5" height="1.5" fill="#fff"/>
<rect x="389.50" y="69.90" width="1.5" height="1.5" fill="#fff"/>
<rect x="389.50" y="66.85" width="1.5" height="1.5" fill="#fff"/>
<rect x="389.50" y="63.80" width="1.5" height="1.5" fill="#fff"/>
<line x1="390.25" y1="61.60" x2="390.25" y2="56.00" stroke="#000" stroke-width="1.0"/>
<line x1="388.75" y1="56.00" x2="391.75" y2="56.00" stroke="#000" stroke-width="1.0"/>
<rect x="393.40" y="64.05" width="3.40" height="23.85" fill="#303030" stroke="#000" stroke-width="0.95"/>
<line x1="395.10" y1="63.60" x2="395.10" y2="57.60" stroke="#000" stroke-width="1.0"/>
<line x1="393.60" y1="57.60" x2="396.60" y2="57.60" stroke="#000" stroke-width="1.0"/>
<rect x="402.45" y="66.85" width="3.40" height="21.05" fill="#c6c6c6" stroke="#000" stroke-width="0.95"/>
<line x1="404.15" y1="66.40" x2="404.15" y2="63.60" stroke="#000" stroke-width="1.0"/>
<line x1="402.65" y1="63.60" x2="405.65" y2="63.60" stroke="#000" stroke-width="1.0"/>
<rect x="407.30" y="56.05" width="3.40" height="31.85" fill="#5a5a5a" stroke="#000" stroke-width="0.95"/>
<line x1="409.00" y1="55.60" x2="409.00" y2="47.00" stroke="#000" stroke-width="1.0"/>
<line x1="407.50" y1="47.00" x2="410.50" y2="47.00" stroke="#000" stroke-width="1.0"/>
<rect x="411.70" y="58.40" width="4.30" height="29.50" fill="#000"/>
<rect x="413.10" y="85.15" width="1.5" height="1.5" fill="#fff"/>
<rect x="413.10" y="82.10" width="1.5" height="1.5" fill="#fff"/>
<rect x="413.10" y="79.05" width="1.5" height="1.5" fill="#fff"/>
<rect x="413.10" y="76.00" width="1.5" height="1.5" fill="#fff"/>
<rect x="413.10" y="72.95" width="1.5" height="1.5" fill="#fff"/>
<rect x="413.10" y="69.90" width="1.5" height="1.5" fill="#fff"/>
<rect x="413.10" y="66.85" width="1.5" height="1.5" fill="#fff"/>
<rect x="413.10" y="63.80" width="1.5" height="1.5" fill="#fff"/>
<rect x="413.10" y="60.75" width="1.5" height="1.5" fill="#fff"/>
<line x1="413.85" y1="58.40" x2="413.85" y2="53.00" stroke="#000" stroke-width="1.0"/>
<line x1="412.35" y1="53.00" x2="415.35" y2="53.00" stroke="#000" stroke-width="1.0"/>
<rect x="417.00" y="43.45" width="3.40" height="44.45" fill="#303030" stroke="#000" stroke-width="0.95"/>
<line x1="418.70" y1="43.00" x2="418.70" y2="34.60" stroke="#000" stroke-width="1.0"/>
<line x1="417.20" y1="34.60" x2="420.20" y2="34.60" stroke="#000" stroke-width="1.0"/>
<rect x="426.45" y="74.45" width="3.40" height="13.45" fill="#c6c6c6" stroke="#000" stroke-width="0.95"/>
<line x1="428.15" y1="74.00" x2="428.15" y2="69.00" stroke="#000" stroke-width="1.0"/>
<line x1="426.65" y1="69.00" x2="429.65" y2="69.00" stroke="#000" stroke-width="1.0"/>
<rect x="431.30" y="69.45" width="3.40" height="18.45" fill="#5a5a5a" stroke="#000" stroke-width="0.95"/>
<line x1="433.00" y1="69.00" x2="433.00" y2="63.60" stroke="#000" stroke-width="1.0"/>
<line x1="431.50" y1="63.60" x2="434.50" y2="63.60" stroke="#000" stroke-width="1.0"/>
<rect x="435.70" y="54.00" width="4.30" height="33.90" fill="#000"/>
<rect x="437.10" y="85.15" width="1.5" height="1.5" fill="#fff"/>
<rect x="437.10" y="82.10" width="1.5" height="1.5" fill="#fff"/>
<rect x="437.10" y="79.05" width="1.5" height="1.5" fill="#fff"/>
<rect x="437.10" y="76.00" width="1.5" height="1.5" fill="#fff"/>
<rect x="437.10" y="72.95" width="1.5" height="1.5" fill="#fff"/>
<rect x="437.10" y="69.90" width="1.5" height="1.5" fill="#fff"/>
<rect x="437.10" y="66.85" width="1.5" height="1.5" fill="#fff"/>
<rect x="437.10" y="63.80" width="1.5" height="1.5" fill="#fff"/>
<rect x="437.10" y="60.75" width="1.5" height="1.5" fill="#fff"/>
<rect x="437.10" y="57.70" width="1.5" height="1.5" fill="#fff"/>
<rect x="437.10" y="54.65" width="1.5" height="1.5" fill="#fff"/>
<line x1="437.85" y1="54.00" x2="437.85" y2="45.00" stroke="#000" stroke-width="1.0"/>
<line x1="436.35" y1="45.00" x2="439.35" y2="45.00" stroke="#000" stroke-width="1.0"/>
<rect x="441.00" y="54.45" width="3.40" height="33.45" fill="#303030" stroke="#000" stroke-width="0.95"/>
<line x1="442.70" y1="54.00" x2="442.70" y2="47.00" stroke="#000" stroke-width="1.0"/>
<line x1="441.20" y1="47.00" x2="444.20" y2="47.00" stroke="#000" stroke-width="1.0"/>
<rect x="450.05" y="74.05" width="3.70" height="13.85" fill="#c6c6c6" stroke="#000" stroke-width="0.95"/>
<line x1="451.90" y1="73.60" x2="451.90" y2="69.60" stroke="#000" stroke-width="1.0"/>
<line x1="450.40" y1="69.60" x2="453.40" y2="69.60" stroke="#000" stroke-width="1.0"/>
<rect x="460.00" y="60.00" width="4.60" height="27.90" fill="#000"/>
<rect x="461.55" y="85.15" width="1.5" height="1.5" fill="#fff"/>
<rect x="461.55" y="82.10" width="1.5" height="1.5" fill="#fff"/>
<rect x="461.55" y="79.05" width="1.5" height="1.5" fill="#fff"/>
<rect x="461.55" y="76.00" width="1.5" height="1.5" fill="#fff"/>
<rect x="461.55" y="72.95" width="1.5" height="1.5" fill="#fff"/>
<rect x="461.55" y="69.90" width="1.5" height="1.5" fill="#fff"/>
<rect x="461.55" y="66.85" width="1.5" height="1.5" fill="#fff"/>
<rect x="461.55" y="63.80" width="1.5" height="1.5" fill="#fff"/>
<rect x="461.55" y="60.75" width="1.5" height="1.5" fill="#fff"/>
<line x1="462.30" y1="60.00" x2="462.30" y2="51.00" stroke="#000" stroke-width="1.0"/>
<line x1="460.80" y1="51.00" x2="463.80" y2="51.00" stroke="#000" stroke-width="1.0"/>
<rect x="474.05" y="54.45" width="3.90" height="33.45" fill="#c6c6c6" stroke="#000" stroke-width="0.95"/>
<line x1="476.00" y1="54.00" x2="476.00" y2="50.40" stroke="#000" stroke-width="1.0"/>
<line x1="474.50" y1="50.40" x2="477.50" y2="50.40" stroke="#000" stroke-width="1.0"/>
<rect x="483.60" y="21.00" width="4.80" height="66.90" fill="#000"/>
<rect x="485.25" y="85.15" width="1.5" height="1.5" fill="#fff"/>
<rect x="485.25" y="82.10" width="1.5" height="1.5" fill="#fff"/>
<rect x="485.25" y="79.05" width="1.5" height="1.5" fill="#fff"/>
<rect x="485.25" y="76.00" width="1.5" height="1.5" fill="#fff"/>
<rect x="485.25" y="72.95" width="1.5" height="1.5" fill="#fff"/>
<rect x="485.25" y="69.90" width="1.5" height="1.5" fill="#fff"/>
<rect x="485.25" y="66.85" width="1.5" height="1.5" fill="#fff"/>
<rect x="485.25" y="63.80" width="1.5" height="1.5" fill="#fff"/>
<rect x="485.25" y="60.75" width="1.5" height="1.5" fill="#fff"/>
<rect x="485.25" y="57.70" width="1.5" height="1.5" fill="#fff"/>
<rect x="485.25" y="54.65" width="1.5" height="1.5" fill="#fff"/>
<rect x="485.25" y="51.60" width="1.5" height="1.5" fill="#fff"/>
<rect x="485.25" y="48.55" width="1.5" height="1.5" fill="#fff"/>
<rect x="485.25" y="45.50" width="1.5" height="1.5" fill="#fff"/>
<rect x="485.25" y="42.45" width="1.5" height="1.5" fill="#fff"/>
<rect x="485.25" y="39.40" width="1.5" height="1.5" fill="#fff"/>
<rect x="485.25" y="36.35" width="1.5" height="1.5" fill="#fff"/>
<rect x="485.25" y="33.30" width="1.5" height="1.5" fill="#fff"/>
<rect x="485.25" y="30.25" width="1.5" height="1.5" fill="#fff"/>
<rect x="485.25" y="27.20" width="1.5" height="1.5" fill="#fff"/>
<rect x="485.25" y="24.15" width="1.5" height="1.5" fill="#fff"/>
<rect x="483.60" y="9.00" width="4.80" height="5.40" fill="#000"/>
<rect x="485.25" y="11.65" width="1.5" height="1.5" fill="#fff"/>
<line x1="486.00" y1="9.00" x2="486.00" y2="6.00" stroke="#000" stroke-width="1.0"/>
<line x1="484.50" y1="6.00" x2="487.50" y2="6.00" stroke="#000" stroke-width="1.0"/>
<rect x="498.05" y="38.45" width="3.90" height="49.45" fill="#c6c6c6" stroke="#000" stroke-width="0.95"/>
<line x1="500.00" y1="38.00" x2="500.00" y2="28.40" stroke="#000" stroke-width="1.0"/>
<line x1="498.50" y1="28.40" x2="501.50" y2="28.40" stroke="#000" stroke-width="1.0"/>
<rect x="507.60" y="21.00" width="4.80" height="66.90" fill="#000"/>
<rect x="509.25" y="85.15" width="1.5" height="1.5" fill="#fff"/>
<rect x="509.25" y="82.10" width="1.5" height="1.5" fill="#fff"/>
<rect x="509.25" y="79.05" width="1.5" height="1.5" fill="#fff"/>
<rect x="509.25" y="76.00" width="1.5" height="1.5" fill="#fff"/>
<rect x="509.25" y="72.95" width="1.5" height="1.5" fill="#fff"/>
<rect x="509.25" y="69.90" width="1.5" height="1.5" fill="#fff"/>
<rect x="509.25" y="66.85" width="1.5" height="1.5" fill="#fff"/>
<rect x="509.25" y="63.80" width="1.5" height="1.5" fill="#fff"/>
<rect x="509.25" y="60.75" width="1.5" height="1.5" fill="#fff"/>
<rect x="509.25" y="57.70" width="1.5" height="1.5" fill="#fff"/>
<rect x="509.25" y="54.65" width="1.5" height="1.5" fill="#fff"/>
<rect x="509.25" y="51.60" width="1.5" height="1.5" fill="#fff"/>
<rect x="509.25" y="48.55" width="1.5" height="1.5" fill="#fff"/>
<rect x="509.25" y="45.50" width="1.5" height="1.5" fill="#fff"/>
<rect x="509.25" y="42.45" width="1.5" height="1.5" fill="#fff"/>
<rect x="509.25" y="39.40" width="1.5" height="1.5" fill="#fff"/>
<rect x="509.25" y="36.35" width="1.5" height="1.5" fill="#fff"/>
<rect x="509.25" y="33.30" width="1.5" height="1.5" fill="#fff"/>
<rect x="509.25" y="30.25" width="1.5" height="1.5" fill="#fff"/>
<rect x="509.25" y="27.20" width="1.5" height="1.5" fill="#fff"/>
<rect x="509.25" y="24.15" width="1.5" height="1.5" fill="#fff"/>
<rect x="507.60" y="8.00" width="4.80" height="6.40" fill="#000"/>
<rect x="509.25" y="11.65" width="1.5" height="1.5" fill="#fff"/>
<rect x="509.25" y="8.60" width="1.5" height="1.5" fill="#fff"/>
<line x1="510.00" y1="8.00" x2="510.00" y2="4.00" stroke="#000" stroke-width="1.0"/>
<line x1="508.50" y1="4.00" x2="511.50" y2="4.00" stroke="#000" stroke-width="1.0"/>
<path d="M332.4,56.4 L332.4,53.6 L349,53.6 L349,56.4" fill="none" stroke="#000" stroke-width="0.9"/>
<path d="M340.50,50.80 L340.50,52.90 M339.59,51.32 L341.41,52.37 M341.41,51.32 L339.59,52.37 " stroke="#000" stroke-width="0.6" fill="none"/>
<path d="M404,37.5 L404,34.2 L420.4,34.2 L420.4,37.5" fill="none" stroke="#000" stroke-width="0.9"/>
<text x="411.5" y="32.40" font-size="4.4" font-weight="bold" text-anchor="middle">ns</text>
<path d="M474.4,6.4 L474.4,4 L486,4 L486,6.4" fill="none" stroke="#000" stroke-width="0.9"/>
<path d="M480.40,0.90 L480.40,3.00 M479.49,1.43 L481.31,2.47 M481.31,1.43 L479.49,2.47 " stroke="#000" stroke-width="0.6" fill="none"/>
<line x1="317" y1="87.9" x2="317" y2="90.7" stroke="#000" stroke-width="1"/>
<line x1="340.6" y1="87.9" x2="340.6" y2="90.7" stroke="#000" stroke-width="1"/>
<line x1="364.6" y1="87.9" x2="364.6" y2="90.7" stroke="#000" stroke-width="1"/>
<line x1="388" y1="87.9" x2="388" y2="90.7" stroke="#000" stroke-width="1"/>
<line x1="411.6" y1="87.9" x2="411.6" y2="90.7" stroke="#000" stroke-width="1"/>
<line x1="435.6" y1="87.9" x2="435.6" y2="90.7" stroke="#000" stroke-width="1"/>
<line x1="460" y1="87.9" x2="460" y2="90.7" stroke="#000" stroke-width="1"/>
<line x1="484" y1="87.9" x2="484" y2="90.7" stroke="#000" stroke-width="1"/>
<line x1="508" y1="87.9" x2="508" y2="90.7" stroke="#000" stroke-width="1"/>
<text x="315.3" y="95.8" font-size="6.2" font-weight="bold" font-style="normal" text-anchor="middle" >D16</text>
<text x="339.3" y="95.8" font-size="6.2" font-weight="bold" font-style="normal" text-anchor="middle" >D20</text>
<text x="363.5" y="95.8" font-size="6.2" font-weight="bold" font-style="normal" text-anchor="middle" >D27</text>
<text x="388.1" y="95.8" font-size="6.2" font-weight="bold" font-style="normal" text-anchor="middle" >D16</text>
<text x="411.8" y="95.8" font-size="6.2" font-weight="bold" font-style="normal" text-anchor="middle" >D20</text>
<text x="435.5" y="95.8" font-size="6.2" font-weight="bold" font-style="normal" text-anchor="middle" >D27</text>
<text x="459.5" y="95.8" font-size="6.2" font-weight="bold" font-style="normal" text-anchor="middle" >D16</text>
<text x="483.8" y="95.8" font-size="6.2" font-weight="bold" font-style="normal" text-anchor="middle" >D20</text>
<text x="507.8" y="95.8" font-size="6.2" font-weight="bold" font-style="normal" text-anchor="middle" >D27</text>
<line x1="305.7" y1="98.9" x2="372" y2="98.9" stroke="#000" stroke-width="1.3"/>
<line x1="376.6" y1="98.9" x2="442.4" y2="98.9" stroke="#000" stroke-width="1.3"/>
<line x1="454" y1="98.9" x2="520" y2="98.9" stroke="#000" stroke-width="1.3"/>
<line x1="303.3" y1="200.4" x2="520" y2="200.4" stroke="#000" stroke-width="1.8"/>
<line x1="304" y1="113.7" x2="304" y2="201.1" stroke="#000" stroke-width="1.8"/>
<line x1="300.5" y1="114.3" x2="304" y2="114.3" stroke="#000" stroke-width="1.4"/>
<text x="297.3" y="116.6" font-size="6.6" font-weight="bold" font-style="normal" text-anchor="end" >3000</text>
<line x1="300.5" y1="143" x2="304" y2="143" stroke="#000" stroke-width="1.4"/>
<text x="297.3" y="145.3" font-size="6.6" font-weight="bold" font-style="normal" text-anchor="end" >2000</text>
<line x1="300.5" y1="171.7" x2="304" y2="171.7" stroke="#000" stroke-width="1.4"/>
<text x="297.3" y="174.0" font-size="6.6" font-weight="bold" font-style="normal" text-anchor="end" >1000</text>
<line x1="300.5" y1="200.4" x2="304" y2="200.4" stroke="#000" stroke-width="1.4"/>
<text x="298.8" y="202.70000000000002" font-size="6.6" font-weight="bold" font-style="normal" text-anchor="end" >0</text>
<text transform="translate(277.2,154.1) rotate(-90)" font-size="7.8" text-anchor="middle">gp100 responding cell #</text>
<rect x="306.85" y="194.05" width="3.40" height="6.35" fill="#c6c6c6" stroke="#000" stroke-width="0.95"/>
<line x1="308.55" y1="193.60" x2="308.55" y2="191.00" stroke="#000" stroke-width="1.0"/>
<line x1="307.05" y1="191.00" x2="310.05" y2="191.00" stroke="#000" stroke-width="1.0"/>
<rect x="311.85" y="182.85" width="3.40" height="17.55" fill="#5a5a5a" stroke="#000" stroke-width="0.95"/>
<line x1="313.55" y1="182.40" x2="313.55" y2="181.00" stroke="#000" stroke-width="1.0"/>
<line x1="312.05" y1="181.00" x2="315.05" y2="181.00" stroke="#000" stroke-width="1.0"/>
<rect x="316.40" y="189.00" width="4.30" height="11.40" fill="#000"/>
<rect x="317.80" y="197.65" width="1.5" height="1.5" fill="#fff"/>
<rect x="317.80" y="194.60" width="1.5" height="1.5" fill="#fff"/>
<rect x="317.80" y="191.55" width="1.5" height="1.5" fill="#fff"/>
<line x1="318.55" y1="189.00" x2="318.55" y2="187.60" stroke="#000" stroke-width="1.0"/>
<line x1="317.05" y1="187.60" x2="320.05" y2="187.60" stroke="#000" stroke-width="1.0"/>
<rect x="321.85" y="172.45" width="3.40" height="27.95" fill="#303030" stroke="#000" stroke-width="0.95"/>
<line x1="323.55" y1="172.00" x2="323.55" y2="167.60" stroke="#000" stroke-width="1.0"/>
<line x1="322.05" y1="167.60" x2="325.05" y2="167.60" stroke="#000" stroke-width="1.0"/>
<rect x="330.45" y="197.45" width="3.40" height="2.95" fill="#c6c6c6" stroke="#000" stroke-width="0.95"/>
<line x1="332.15" y1="197.00" x2="332.15" y2="195.60" stroke="#000" stroke-width="1.0"/>
<line x1="330.65" y1="195.60" x2="333.65" y2="195.60" stroke="#000" stroke-width="1.0"/>
<rect x="335.45" y="180.45" width="3.40" height="19.95" fill="#5a5a5a" stroke="#000" stroke-width="0.95"/>
<line x1="337.15" y1="180.00" x2="337.15" y2="172.40" stroke="#000" stroke-width="1.0"/>
<line x1="335.65" y1="172.40" x2="338.65" y2="172.40" stroke="#000" stroke-width="1.0"/>
<rect x="340.00" y="191.40" width="4.30" height="9.00" fill="#000"/>
<rect x="341.40" y="197.65" width="1.5" height="1.5" fill="#fff"/>
<rect x="341.40" y="194.60" width="1.5" height="1.5" fill="#fff"/>
<line x1="342.15" y1="191.40" x2="342.15" y2="187.60" stroke="#000" stroke-width="1.0"/>
<line x1="340.65" y1="187.60" x2="343.65" y2="187.60" stroke="#000" stroke-width="1.0"/>
<rect x="345.45" y="154.45" width="3.40" height="45.95" fill="#303030" stroke="#000" stroke-width="0.95"/>
<line x1="347.15" y1="154.00" x2="347.15" y2="136.40" stroke="#000" stroke-width="1.0"/>
<line x1="345.65" y1="136.40" x2="348.65" y2="136.40" stroke="#000" stroke-width="1.0"/>
<rect x="354.45" y="200.15" width="3.40" height="0.25" fill="#c6c6c6" stroke="#000" stroke-width="0.95"/>
<rect x="359.45" y="200.15" width="3.40" height="0.25" fill="#5a5a5a" stroke="#000" stroke-width="0.95"/>
<rect x="364.00" y="198.00" width="4.30" height="2.40" fill="#000"/>
<line x1="366.15" y1="198.00" x2="366.15" y2="197.20" stroke="#000" stroke-width="1.0"/>
<line x1="364.65" y1="197.20" x2="367.65" y2="197.20" stroke="#000" stroke-width="1.0"/>
<rect x="369.45" y="198.05" width="3.40" height="2.35" fill="#303030" stroke="#000" stroke-width="0.95"/>
<line x1="371.15" y1="197.60" x2="371.15" y2="196.80" stroke="#000" stroke-width="1.0"/>
<line x1="369.65" y1="196.80" x2="372.65" y2="196.80" stroke="#000" stroke-width="1.0"/>
<rect x="378.85" y="196.85" width="3.40" height="3.55" fill="#c6c6c6" stroke="#000" stroke-width="0.95"/>
<line x1="380.55" y1="196.40" x2="380.55" y2="194.40" stroke="#000" stroke-width="1.0"/>
<line x1="379.05" y1="194.40" x2="382.05" y2="194.40" stroke="#000" stroke-width="1.0"/>
<rect x="383.70" y="191.45" width="3.40" height="8.95" fill="#5a5a5a" stroke="#000" stroke-width="0.95"/>
<line x1="385.40" y1="191.00" x2="385.40" y2="187.00" stroke="#000" stroke-width="1.0"/>
<line x1="383.90" y1="187.00" x2="386.90" y2="187.00" stroke="#000" stroke-width="1.0"/>
<rect x="388.10" y="178.00" width="4.30" height="22.40" fill="#000"/>
<rect x="389.50" y="197.65" width="1.5" height="1.5" fill="#fff"/>
<rect x="389.50" y="194.60" width="1.5" height="1.5" fill="#fff"/>
<rect x="389.50" y="191.55" width="1.5" height="1.5" fill="#fff"/>
<rect x="389.50" y="188.50" width="1.5" height="1.5" fill="#fff"/>
<rect x="389.50" y="185.45" width="1.5" height="1.5" fill="#fff"/>
<rect x="389.50" y="182.40" width="1.5" height="1.5" fill="#fff"/>
<rect x="389.50" y="179.35" width="1.5" height="1.5" fill="#fff"/>
<line x1="390.25" y1="178.00" x2="390.25" y2="170.00" stroke="#000" stroke-width="1.0"/>
<line x1="388.75" y1="170.00" x2="391.75" y2="170.00" stroke="#000" stroke-width="1.0"/>
<rect x="393.40" y="169.45" width="3.40" height="30.95" fill="#303030" stroke="#000" stroke-width="0.95"/>
<line x1="395.10" y1="169.00" x2="395.10" y2="157.00" stroke="#000" stroke-width="1.0"/>
<line x1="393.60" y1="157.00" x2="396.60" y2="157.00" stroke="#000" stroke-width="1.0"/>
<rect x="402.45" y="188.45" width="3.40" height="11.95" fill="#c6c6c6" stroke="#000" stroke-width="0.95"/>
<line x1="404.15" y1="188.00" x2="404.15" y2="185.00" stroke="#000" stroke-width="1.0"/>
<line x1="402.65" y1="185.00" x2="405.65" y2="185.00" stroke="#000" stroke-width="1.0"/>
<rect x="407.30" y="160.05" width="3.40" height="40.35" fill="#5a5a5a" stroke="#000" stroke-width="0.95"/>
<line x1="409.00" y1="159.60" x2="409.00" y2="140.00" stroke="#000" stroke-width="1.0"/>
<line x1="407.50" y1="140.00" x2="410.50" y2="140.00" stroke="#000" stroke-width="1.0"/>
<rect x="411.70" y="172.40" width="4.30" height="28.00" fill="#000"/>
<rect x="413.10" y="197.65" width="1.5" height="1.5" fill="#fff"/>
<rect x="413.10" y="194.60" width="1.5" height="1.5" fill="#fff"/>
<rect x="413.10" y="191.55" width="1.5" height="1.5" fill="#fff"/>
<rect x="413.10" y="188.50" width="1.5" height="1.5" fill="#fff"/>
<rect x="413.10" y="185.45" width="1.5" height="1.5" fill="#fff"/>
<rect x="413.10" y="182.40" width="1.5" height="1.5" fill="#fff"/>
<rect x="413.10" y="179.35" width="1.5" height="1.5" fill="#fff"/>
<rect x="413.10" y="176.30" width="1.5" height="1.5" fill="#fff"/>
<rect x="413.10" y="173.25" width="1.5" height="1.5" fill="#fff"/>
<line x1="413.85" y1="172.40" x2="413.85" y2="164.00" stroke="#000" stroke-width="1.0"/>
<line x1="412.35" y1="164.00" x2="415.35" y2="164.00" stroke="#000" stroke-width="1.0"/>
<rect x="417.00" y="127.45" width="3.40" height="72.95" fill="#303030" stroke="#000" stroke-width="0.95"/>
<line x1="418.70" y1="127.00" x2="418.70" y2="114.40" stroke="#000" stroke-width="1.0"/>
<line x1="417.20" y1="114.40" x2="420.20" y2="114.40" stroke="#000" stroke-width="1.0"/>
<rect x="426.45" y="195.45" width="3.40" height="4.95" fill="#c6c6c6" stroke="#000" stroke-width="0.95"/>
<line x1="428.15" y1="195.00" x2="428.15" y2="192.60" stroke="#000" stroke-width="1.0"/>
<line x1="426.65" y1="192.60" x2="429.65" y2="192.60" stroke="#000" stroke-width="1.0"/>
<rect x="431.30" y="196.85" width="3.40" height="3.55" fill="#5a5a5a" stroke="#000" stroke-width="0.95"/>
<line x1="433.00" y1="196.40" x2="433.00" y2="194.40" stroke="#000" stroke-width="1.0"/>
<line x1="431.50" y1="194.40" x2="434.50" y2="194.40" stroke="#000" stroke-width="1.0"/>
<rect x="435.70" y="192.00" width="4.30" height="8.40" fill="#000"/>
<rect x="437.10" y="197.65" width="1.5" height="1.5" fill="#fff"/>
<rect x="437.10" y="194.60" width="1.5" height="1.5" fill="#fff"/>
<line x1="437.85" y1="192.00" x2="437.85" y2="189.60" stroke="#000" stroke-width="1.0"/>
<line x1="436.35" y1="189.60" x2="439.35" y2="189.60" stroke="#000" stroke-width="1.0"/>
<rect x="441.00" y="163.45" width="3.40" height="36.95" fill="#303030" stroke="#000" stroke-width="0.95"/>
<line x1="442.70" y1="163.00" x2="442.70" y2="153.60" stroke="#000" stroke-width="1.0"/>
<line x1="441.20" y1="153.60" x2="444.20" y2="153.60" stroke="#000" stroke-width="1.0"/>
<rect x="450.05" y="199.45" width="3.50" height="0.95" fill="#c6c6c6" stroke="#000" stroke-width="0.95"/>
<rect x="460.00" y="196.40" width="4.60" height="4.00" fill="#000"/>
<rect x="461.55" y="197.65" width="1.5" height="1.5" fill="#fff"/>
<line x1="462.30" y1="196.40" x2="462.30" y2="193.60" stroke="#000" stroke-width="1.0"/>
<line x1="460.80" y1="193.60" x2="463.80" y2="193.60" stroke="#000" stroke-width="1.0"/>
<rect x="474.05" y="180.85" width="3.90" height="19.55" fill="#c6c6c6" stroke="#000" stroke-width="0.95"/>
<line x1="476.00" y1="180.40" x2="476.00" y2="168.40" stroke="#000" stroke-width="1.0"/>
<line x1="474.50" y1="168.40" x2="477.50" y2="168.40" stroke="#000" stroke-width="1.0"/>
<rect x="483.60" y="141.60" width="4.80" height="58.80" fill="#000"/>
<rect x="485.25" y="197.65" width="1.5" height="1.5" fill="#fff"/>
<rect x="485.25" y="194.60" width="1.5" height="1.5" fill="#fff"/>
<rect x="485.25" y="191.55" width="1.5" height="1.5" fill="#fff"/>
<rect x="485.25" y="188.50" width="1.5" height="1.5" fill="#fff"/>
<rect x="485.25" y="185.45" width="1.5" height="1.5" fill="#fff"/>
<rect x="485.25" y="182.40" width="1.5" height="1.5" fill="#fff"/>
<rect x="485.25" y="179.35" width="1.5" height="1.5" fill="#fff"/>
<rect x="485.25" y="176.30" width="1.5" height="1.5" fill="#fff"/>
<rect x="485.25" y="173.25" width="1.5" height="1.5" fill="#fff"/>
<rect x="485.25" y="170.20" width="1.5" height="1.5" fill="#fff"/>
<rect x="485.25" y="167.15" width="1.5" height="1.5" fill="#fff"/>
<rect x="485.25" y="164.10" width="1.5" height="1.5" fill="#fff"/>
<rect x="485.25" y="161.05" width="1.5" height="1.5" fill="#fff"/>
<rect x="485.25" y="158.00" width="1.5" height="1.5" fill="#fff"/>
<rect x="485.25" y="154.95" width="1.5" height="1.5" fill="#fff"/>
<rect x="485.25" y="151.90" width="1.5" height="1.5" fill="#fff"/>
<rect x="485.25" y="148.85" width="1.5" height="1.5" fill="#fff"/>
<rect x="485.25" y="145.80" width="1.5" height="1.5" fill="#fff"/>
<rect x="485.25" y="142.75" width="1.5" height="1.5" fill="#fff"/>
<line x1="486.00" y1="141.60" x2="486.00" y2="120.00" stroke="#000" stroke-width="1.0"/>
<line x1="484.50" y1="120.00" x2="487.50" y2="120.00" stroke="#000" stroke-width="1.0"/>
<rect x="498.45" y="199.05" width="3.50" height="1.35" fill="#c6c6c6" stroke="#000" stroke-width="0.95"/>
<rect x="507.60" y="181.00" width="4.80" height="19.40" fill="#000"/>
<rect x="509.25" y="197.65" width="1.5" height="1.5" fill="#fff"/>
<rect x="509.25" y="194.60" width="1.5" height="1.5" fill="#fff"/>
<rect x="509.25" y="191.55" width="1.5" height="1.5" fill="#fff"/>
<rect x="509.25" y="188.50" width="1.5" height="1.5" fill="#fff"/>
<rect x="509.25" y="185.45" width="1.5" height="1.5" fill="#fff"/>
<rect x="509.25" y="182.40" width="1.5" height="1.5" fill="#fff"/>
<line x1="510.00" y1="181.00" x2="510.00" y2="173.60" stroke="#000" stroke-width="1.0"/>
<line x1="508.50" y1="173.60" x2="511.50" y2="173.60" stroke="#000" stroke-width="1.0"/>
<path d="M308,178 L308,176 L313.6,176 L313.6,178" fill="none" stroke="#000" stroke-width="0.9"/>
<path d="M311.00,173.00 L311.00,175.10 M310.09,173.53 L311.91,174.58 M311.91,173.53 L310.09,174.58 " stroke="#000" stroke-width="0.6" fill="none"/>
<path d="M307.4,166 L307.4,163 L323.6,163 L323.6,166" fill="none" stroke="#000" stroke-width="0.9"/>
<text x="316" y="161.80" font-size="4.4" font-weight="bold" text-anchor="middle">ns</text>
<path d="M332,134.4 L332,132 L348.4,132 L348.4,134.4" fill="none" stroke="#000" stroke-width="0.9"/>
<path d="M340.40,128.50 L340.40,130.60 M339.49,129.03 L341.31,130.08 M341.31,129.03 L339.49,130.08 " stroke="#000" stroke-width="0.6" fill="none"/>
<path d="M379.6,169 L379.6,165.6 L390,165.6 L390,169" fill="none" stroke="#000" stroke-width="0.9"/>
<path d="M385.00,162.10 L385.00,164.20 M384.09,162.62 L385.91,163.68 M385.91,162.62 L384.09,163.68 " stroke="#000" stroke-width="0.6" fill="none"/>
<path d="M379,155.6 L379,152.6 L395.4,152.6 L395.4,155.6" fill="none" stroke="#000" stroke-width="0.9"/>
<path d="M387.60,149.10 L387.60,151.20 M386.69,149.62 L388.51,150.68 M388.51,149.62 L386.69,150.68 " stroke="#000" stroke-width="0.6" fill="none"/>
<path d="M402.4,138.4 L402.4,135.6 L415,135.6 L415,138.4" fill="none" stroke="#000" stroke-width="0.9"/>
<path d="M408.40,131.90 L408.40,134.00 M407.49,132.43 L409.31,133.48 M409.31,132.43 L407.49,133.48 " stroke="#000" stroke-width="0.6" fill="none"/>
<path d="M402,111.2 L402,108.4 L420.4,108.4 L420.4,111.2" fill="none" stroke="#000" stroke-width="0.9"/>
<path d="M409.70,104.90 L409.70,107.00 M408.79,105.42 L410.61,106.48 M410.61,105.42 L408.79,106.48 " stroke="#000" stroke-width="0.6" fill="none"/>
<path d="M412.30,104.90 L412.30,107.00 M411.39,105.42 L413.21,106.48 M413.21,105.42 L411.39,106.48 " stroke="#000" stroke-width="0.6" fill="none"/>
<path d="M427.6,151 L427.6,148 L443.6,148 L443.6,151" fill="none" stroke="#000" stroke-width="0.9"/>
<path d="M436.40,144.50 L436.40,146.60 M435.49,145.03 L437.31,146.08 M437.31,145.03 L435.49,146.08 " stroke="#000" stroke-width="0.6" fill="none"/>
<line x1="316" y1="200.4" x2="316" y2="203.20000000000002" stroke="#000" stroke-width="1"/>
<line x1="339.6" y1="200.4" x2="339.6" y2="203.20000000000002" stroke="#000" stroke-width="1"/>
<line x1="363.6" y1="200.4" x2="363.6" y2="203.20000000000002" stroke="#000" stroke-width="1"/>
<line x1="388" y1="200.4" x2="388" y2="203.20000000000002" stroke="#000" stroke-width="1"/>
<line x1="411.6" y1="200.4" x2="411.6" y2="203.20000000000002" stroke="#000" stroke-width="1"/>
<line x1="435.4" y1="200.4" x2="435.4" y2="203.20000000000002" stroke="#000" stroke-width="1"/>
<line x1="459" y1="200.4" x2="459" y2="203.20000000000002" stroke="#000" stroke-width="1"/>
<line x1="483" y1="200.4" x2="483" y2="203.20000000000002" stroke="#000" stroke-width="1"/>
<line x1="507" y1="200.4" x2="507" y2="203.20000000000002" stroke="#000" stroke-width="1"/>
<text x="313.5" y="211.3" font-size="6.2" font-weight="bold" font-style="normal" text-anchor="middle" >D16</text>
<text x="337.5" y="211.3" font-size="6.2" font-weight="bold" font-style="normal" text-anchor="middle" >D20</text>
<text x="362.5" y="211.3" font-size="6.2" font-weight="bold" font-style="normal" text-anchor="middle" >D27</text>
<text x="386.5" y="211.3" font-size="6.2" font-weight="bold" font-style="normal" text-anchor="middle" >D16</text>
<text x="410" y="211.3" font-size="6.2" font-weight="bold" font-style="normal" text-anchor="middle" >D20</text>
<text x="434.5" y="211.3" font-size="6.2" font-weight="bold" font-style="normal" text-anchor="middle" >D27</text>
<text x="458" y="211.3" font-size="6.2" font-weight="bold" font-style="normal" text-anchor="middle" >D16</text>
<text x="482.5" y="211.3" font-size="6.2" font-weight="bold" font-style="normal" text-anchor="middle" >D20</text>
<text x="505.8" y="211.3" font-size="6.2" font-weight="bold" font-style="normal" text-anchor="middle" >D27</text>
<line x1="305" y1="213.7" x2="370" y2="213.7" stroke="#000" stroke-width="1.3"/>
<line x1="375.6" y1="213.7" x2="442" y2="213.7" stroke="#000" stroke-width="1.3"/>
<line x1="452" y1="213.7" x2="520" y2="213.7" stroke="#000" stroke-width="1.3"/>
<line x1="300.9" y1="309.4" x2="520" y2="309.4" stroke="#000" stroke-width="1.8"/>
<line x1="301.6" y1="223.7" x2="301.6" y2="310.09999999999997" stroke="#000" stroke-width="1.8"/>
<line x1="298.1" y1="224.4" x2="301.6" y2="224.4" stroke="#000" stroke-width="1.4"/>
<text x="297.7" y="226.70000000000002" font-size="6.5" font-weight="bold" font-style="normal" text-anchor="end" >4</text>
<line x1="298.1" y1="245.7" x2="301.6" y2="245.7" stroke="#000" stroke-width="1.4"/>
<text x="297.7" y="248.0" font-size="6.5" font-weight="bold" font-style="normal" text-anchor="end" >3</text>
<line x1="298.1" y1="267" x2="301.6" y2="267" stroke="#000" stroke-width="1.4"/>
<text x="297.7" y="269.3" font-size="6.5" font-weight="bold" font-style="normal" text-anchor="end" >2</text>
<line x1="298.1" y1="288.2" x2="301.6" y2="288.2" stroke="#000" stroke-width="1.4"/>
<text x="297.7" y="290.5" font-size="6.5" font-weight="bold" font-style="normal" text-anchor="end" >1</text>
<line x1="298.1" y1="309.4" x2="301.6" y2="309.4" stroke="#000" stroke-width="1.4"/>
<text x="297.7" y="311.7" font-size="6.5" font-weight="bold" font-style="normal" text-anchor="end" >0</text>
<text transform="translate(283.3,268.5) rotate(-90)" font-size="7.7" text-anchor="middle">% of gp100 responding cells</text>
<rect x="304.85" y="290.45" width="3.50" height="18.95" fill="#c6c6c6" stroke="#000" stroke-width="0.95"/>
<line x1="306.60" y1="290.00" x2="306.60" y2="284.60" stroke="#000" stroke-width="1.0"/>
<line x1="305.10" y1="284.60" x2="308.10" y2="284.60" stroke="#000" stroke-width="1.0"/>
<rect x="309.85" y="263.45" width="3.50" height="45.95" fill="#5a5a5a" stroke="#000" stroke-width="0.95"/>
<line x1="311.60" y1="263.00" x2="311.60" y2="256.00" stroke="#000" stroke-width="1.0"/>
<line x1="310.10" y1="256.00" x2="313.10" y2="256.00" stroke="#000" stroke-width="1.0"/>
<rect x="314.40" y="285.40" width="4.40" height="24.00" fill="#000"/>
<rect x="315.85" y="306.65" width="1.5" height="1.5" fill="#fff"/>
<rect x="315.85" y="303.60" width="1.5" height="1.5" fill="#fff"/>
<rect x="315.85" y="300.55" width="1.5" height="1.5" fill="#fff"/>
<rect x="315.85" y="297.50" width="1.5" height="1.5" fill="#fff"/>
<rect x="315.85" y="294.45" width="1.5" height="1.5" fill="#fff"/>
<rect x="315.85" y="291.40" width="1.5" height="1.5" fill="#fff"/>
<rect x="315.85" y="288.35" width="1.5" height="1.5" fill="#fff"/>
<line x1="316.60" y1="285.40" x2="316.60" y2="283.40" stroke="#000" stroke-width="1.0"/>
<line x1="315.10" y1="283.40" x2="318.10" y2="283.40" stroke="#000" stroke-width="1.0"/>
<rect x="319.85" y="253.45" width="3.50" height="55.95" fill="#303030" stroke="#000" stroke-width="0.95"/>
<line x1="321.60" y1="253.00" x2="321.60" y2="247.60" stroke="#000" stroke-width="1.0"/>
<line x1="320.10" y1="247.60" x2="323.10" y2="247.60" stroke="#000" stroke-width="1.0"/>
<rect x="328.45" y="292.45" width="3.50" height="16.95" fill="#c6c6c6" stroke="#000" stroke-width="0.95"/>
<line x1="330.20" y1="292.00" x2="330.20" y2="288.00" stroke="#000" stroke-width="1.0"/>
<line x1="328.70" y1="288.00" x2="331.70" y2="288.00" stroke="#000" stroke-width="1.0"/>
<rect x="333.45" y="261.45" width="3.50" height="47.95" fill="#5a5a5a" stroke="#000" stroke-width="0.95"/>
<line x1="335.20" y1="261.00" x2="335.20" y2="249.60" stroke="#000" stroke-width="1.0"/>
<line x1="333.70" y1="249.60" x2="336.70" y2="249.60" stroke="#000" stroke-width="1.0"/>
<rect x="338.00" y="293.00" width="4.40" height="16.40" fill="#000"/>
<rect x="339.45" y="306.65" width="1.5" height="1.5" fill="#fff"/>
<rect x="339.45" y="303.60" width="1.5" height="1.5" fill="#fff"/>
<rect x="339.45" y="300.55" width="1.5" height="1.5" fill="#fff"/>
<rect x="339.45" y="297.50" width="1.5" height="1.5" fill="#fff"/>
<rect x="339.45" y="294.45" width="1.5" height="1.5" fill="#fff"/>
<line x1="340.20" y1="293.00" x2="340.20" y2="290.00" stroke="#000" stroke-width="1.0"/>
<line x1="338.70" y1="290.00" x2="341.70" y2="290.00" stroke="#000" stroke-width="1.0"/>
<rect x="343.45" y="248.05" width="3.50" height="61.35" fill="#303030" stroke="#000" stroke-width="0.95"/>
<line x1="345.20" y1="247.60" x2="345.20" y2="233.20" stroke="#000" stroke-width="1.0"/>
<line x1="343.70" y1="233.20" x2="346.70" y2="233.20" stroke="#000" stroke-width="1.0"/>
<rect x="352.45" y="298.45" width="3.50" height="10.95" fill="#c6c6c6" stroke="#000" stroke-width="0.95"/>
<line x1="354.20" y1="298.00" x2="354.20" y2="294.00" stroke="#000" stroke-width="1.0"/>
<line x1="352.70" y1="294.00" x2="355.70" y2="294.00" stroke="#000" stroke-width="1.0"/>
<rect x="357.45" y="299.45" width="3.50" height="9.95" fill="#5a5a5a" stroke="#000" stroke-width="0.95"/>
<line x1="359.20" y1="299.00" x2="359.20" y2="296.00" stroke="#000" stroke-width="1.0"/>
<line x1="357.70" y1="296.00" x2="360.70" y2="296.00" stroke="#000" stroke-width="1.0"/>
<rect x="362.00" y="299.40" width="4.40" height="10.00" fill="#000"/>
<rect x="363.45" y="306.65" width="1.5" height="1.5" fill="#fff"/>
<rect x="363.45" y="303.60" width="1.5" height="1.5" fill="#fff"/>
<rect x="363.45" y="300.55" width="1.5" height="1.5" fill="#fff"/>
<line x1="364.20" y1="299.40" x2="364.20" y2="296.60" stroke="#000" stroke-width="1.0"/>
<line x1="362.70" y1="296.60" x2="365.70" y2="296.60" stroke="#000" stroke-width="1.0"/>
<rect x="367.45" y="295.45" width="3.50" height="13.95" fill="#303030" stroke="#000" stroke-width="0.95"/>
<line x1="369.20" y1="295.00" x2="369.20" y2="290.60" stroke="#000" stroke-width="1.0"/>
<line x1="367.70" y1="290.60" x2="370.70" y2="290.60" stroke="#000" stroke-width="1.0"/>
<rect x="376.85" y="300.45" width="3.50" height="8.95" fill="#c6c6c6" stroke="#000" stroke-width="0.95"/>
<line x1="378.60" y1="300.00" x2="378.60" y2="296.00" stroke="#000" stroke-width="1.0"/>
<line x1="377.10" y1="296.00" x2="380.10" y2="296.00" stroke="#000" stroke-width="1.0"/>
<rect x="381.85" y="291.45" width="3.50" height="17.95" fill="#5a5a5a" stroke="#000" stroke-width="0.95"/>
<line x1="383.60" y1="291.00" x2="383.60" y2="286.00" stroke="#000" stroke-width="1.0"/>
<line x1="382.10" y1="286.00" x2="385.10" y2="286.00" stroke="#000" stroke-width="1.0"/>
<rect x="386.40" y="284.60" width="4.40" height="24.80" fill="#000"/>
<rect x="387.85" y="306.65" width="1.5" height="1.5" fill="#fff"/>
<rect x="387.85" y="303.60" width="1.5" height="1.5" fill="#fff"/>
<rect x="387.85" y="300.55" width="1.5" height="1.5" fill="#fff"/>
<rect x="387.85" y="297.50" width="1.5" height="1.5" fill="#fff"/>
<rect x="387.85" y="294.45" width="1.5" height="1.5" fill="#fff"/>
<rect x="387.85" y="291.40" width="1.5" height="1.5" fill="#fff"/>
<rect x="387.85" y="288.35" width="1.5" height="1.5" fill="#fff"/>
<rect x="387.85" y="285.30" width="1.5" height="1.5" fill="#fff"/>
<line x1="388.60" y1="284.60" x2="388.60" y2="281.40" stroke="#000" stroke-width="1.0"/>
<line x1="387.10" y1="281.40" x2="390.10" y2="281.40" stroke="#000" stroke-width="1.0"/>
<rect x="391.85" y="271.85" width="3.50" height="37.55" fill="#303030" stroke="#000" stroke-width="0.95"/>
<line x1="393.60" y1="271.40" x2="393.60" y2="265.00" stroke="#000" stroke-width="1.0"/>
<line x1="392.10" y1="265.00" x2="395.10" y2="265.00" stroke="#000" stroke-width="1.0"/>
<rect x="401.05" y="293.45" width="3.50" height="15.95" fill="#c6c6c6" stroke="#000" stroke-width="0.95"/>
<line x1="402.80" y1="293.00" x2="402.80" y2="289.40" stroke="#000" stroke-width="1.0"/>
<line x1="401.30" y1="289.40" x2="404.30" y2="289.40" stroke="#000" stroke-width="1.0"/>
<rect x="406.05" y="283.85" width="3.50" height="25.55" fill="#5a5a5a" stroke="#000" stroke-width="0.95"/>
<line x1="407.80" y1="283.40" x2="407.80" y2="273.00" stroke="#000" stroke-width="1.0"/>
<line x1="406.30" y1="273.00" x2="409.30" y2="273.00" stroke="#000" stroke-width="1.0"/>
<rect x="410.60" y="280.00" width="4.40" height="29.40" fill="#000"/>
<rect x="412.05" y="306.65" width="1.5" height="1.5" fill="#fff"/>
<rect x="412.05" y="303.60" width="1.5" height="1.5" fill="#fff"/>
<rect x="412.05" y="300.55" width="1.5" height="1.5" fill="#fff"/>
<rect x="412.05" y="297.50" width="1.5" height="1.5" fill="#fff"/>
<rect x="412.05" y="294.45" width="1.5" height="1.5" fill="#fff"/>
<rect x="412.05" y="291.40" width="1.5" height="1.5" fill="#fff"/>
<rect x="412.05" y="288.35" width="1.5" height="1.5" fill="#fff"/>
<rect x="412.05" y="285.30" width="1.5" height="1.5" fill="#fff"/>
<rect x="412.05" y="282.25" width="1.5" height="1.5" fill="#fff"/>
<line x1="412.80" y1="280.00" x2="412.80" y2="275.40" stroke="#000" stroke-width="1.0"/>
<line x1="411.30" y1="275.40" x2="414.30" y2="275.40" stroke="#000" stroke-width="1.0"/>
<rect x="416.05" y="256.85" width="3.50" height="52.55" fill="#303030" stroke="#000" stroke-width="0.95"/>
<line x1="417.80" y1="256.40" x2="417.80" y2="250.40" stroke="#000" stroke-width="1.0"/>
<line x1="416.30" y1="250.40" x2="419.30" y2="250.40" stroke="#000" stroke-width="1.0"/>
<rect x="424.85" y="292.45" width="3.50" height="16.95" fill="#c6c6c6" stroke="#000" stroke-width="0.95"/>
<line x1="426.60" y1="292.00" x2="426.60" y2="287.00" stroke="#000" stroke-width="1.0"/>
<line x1="425.10" y1="287.00" x2="428.10" y2="287.00" stroke="#000" stroke-width="1.0"/>
<rect x="429.85" y="299.05" width="3.50" height="10.35" fill="#5a5a5a" stroke="#000" stroke-width="0.95"/>
<line x1="431.60" y1="298.60" x2="431.60" y2="296.60" stroke="#000" stroke-width="1.0"/>
<line x1="430.10" y1="296.60" x2="433.10" y2="296.60" stroke="#000" stroke-width="1.0"/>
<rect x="434.40" y="283.00" width="4.40" height="26.40" fill="#000"/>
<rect x="435.85" y="306.65" width="1.5" height="1.5" fill="#fff"/>
<rect x="435.85" y="303.60" width="1.5" height="1.5" fill="#fff"/>
<rect x="435.85" y="300.55" width="1.5" height="1.5" fill="#fff"/>
<rect x="435.85" y="297.50" width="1.5" height="1.5" fill="#fff"/>
<rect x="435.85" y="294.45" width="1.5" height="1.5" fill="#fff"/>
<rect x="435.85" y="291.40" width="1.5" height="1.5" fill="#fff"/>
<rect x="435.85" y="288.35" width="1.5" height="1.5" fill="#fff"/>
<rect x="435.85" y="285.30" width="1.5" height="1.5" fill="#fff"/>
<line x1="436.60" y1="283.00" x2="436.60" y2="276.00" stroke="#000" stroke-width="1.0"/>
<line x1="435.10" y1="276.00" x2="438.10" y2="276.00" stroke="#000" stroke-width="1.0"/>
<rect x="439.85" y="272.95" width="3.50" height="36.45" fill="#303030" stroke="#000" stroke-width="0.95"/>
<line x1="441.60" y1="272.50" x2="441.60" y2="260.40" stroke="#000" stroke-width="1.0"/>
<line x1="440.10" y1="260.40" x2="443.10" y2="260.40" stroke="#000" stroke-width="1.0"/>
<rect x="448.85" y="306.45" width="3.30" height="2.95" fill="#c6c6c6" stroke="#000" stroke-width="0.95"/>
<rect x="458.40" y="305.00" width="4.20" height="4.40" fill="#000"/>
<rect x="459.75" y="306.65" width="1.5" height="1.5" fill="#fff"/>
<line x1="460.50" y1="305.00" x2="460.50" y2="303.40" stroke="#000" stroke-width="1.0"/>
<line x1="459.00" y1="303.40" x2="462.00" y2="303.40" stroke="#000" stroke-width="1.0"/>
<rect x="472.45" y="291.05" width="3.70" height="18.35" fill="#c6c6c6" stroke="#000" stroke-width="0.95"/>
<line x1="474.30" y1="290.60" x2="474.30" y2="281.40" stroke="#000" stroke-width="1.0"/>
<line x1="472.80" y1="281.40" x2="475.80" y2="281.40" stroke="#000" stroke-width="1.0"/>
<rect x="482.00" y="292.00" width="5.00" height="17.40" fill="#000"/>
<rect x="483.75" y="306.65" width="1.5" height="1.5" fill="#fff"/>
<rect x="483.75" y="303.60" width="1.5" height="1.5" fill="#fff"/>
<rect x="483.75" y="300.55" width="1.5" height="1.5" fill="#fff"/>
<rect x="483.75" y="297.50" width="1.5" height="1.5" fill="#fff"/>
<rect x="483.75" y="294.45" width="1.5" height="1.5" fill="#fff"/>
<line x1="484.50" y1="292.00" x2="484.50" y2="287.40" stroke="#000" stroke-width="1.0"/>
<line x1="483.00" y1="287.40" x2="486.00" y2="287.40" stroke="#000" stroke-width="1.0"/>
<rect x="496.45" y="308.45" width="3.50" height="0.95" fill="#c6c6c6" stroke="#000" stroke-width="0.95"/>
<rect x="506.00" y="305.60" width="4.40" height="3.80" fill="#000"/>
<rect x="507.45" y="306.65" width="1.5" height="1.5" fill="#fff"/>
<line x1="508.20" y1="305.60" x2="508.20" y2="304.40" stroke="#000" stroke-width="1.0"/>
<line x1="506.70" y1="304.40" x2="509.70" y2="304.40" stroke="#000" stroke-width="1.0"/>
<path d="M305,254 L305,251.4 L311,251.4 L311,254" fill="none" stroke="#000" stroke-width="0.9"/>
<path d="M308.00,248.10 L308.00,250.20 M307.09,248.62 L308.91,249.68 M308.91,248.62 L307.09,249.68 " stroke="#000" stroke-width="0.6" fill="none"/>
<path d="M305,245 L305,242 L321.6,242 L321.6,245" fill="none" stroke="#000" stroke-width="0.9"/>
<text x="314.4" y="240.80" font-size="4.4" font-weight="bold" text-anchor="middle">ns</text>
<path d="M328.4,231.6 L328.4,228.4 L345,228.4 L345,231.6" fill="none" stroke="#000" stroke-width="0.9"/>
<path d="M337.00,224.70 L337.00,226.80 M336.09,225.22 L337.91,226.28 M337.91,225.22 L336.09,226.28 " stroke="#000" stroke-width="0.6" fill="none"/>
<path d="M376.4,263.4 L376.4,261 L393,261 L393,263.4" fill="none" stroke="#000" stroke-width="0.9"/>
<path d="M385.00,257.30 L385.00,259.40 M384.09,257.83 L385.91,258.88 M385.91,257.83 L384.09,258.88 " stroke="#000" stroke-width="0.6" fill="none"/>
<path d="M377.4,280 L377.4,277.4 L388,277.4 L388,280" fill="none" stroke="#000" stroke-width="0.9"/>
<path d="M382.40,273.90 L382.40,276.00 M381.49,274.43 L383.31,275.47 M383.31,274.43 L381.49,275.47 " stroke="#000" stroke-width="0.6" fill="none"/>
<path d="M398.6,248 L398.6,245.6 L417,245.6 L417,248" fill="none" stroke="#000" stroke-width="0.9"/>
<path d="M406.70,241.90 L406.70,244.00 M405.79,242.43 L407.61,243.48 M407.61,242.43 L405.79,243.48 " stroke="#000" stroke-width="0.6" fill="none"/>
<path d="M409.30,241.90 L409.30,244.00 M408.39,242.43 L410.21,243.48 M410.21,242.43 L408.39,243.48 " stroke="#000" stroke-width="0.6" fill="none"/>
<path d="M398.6,272 L398.6,269.5 L411.6,269.5 L411.6,272" fill="none" stroke="#000" stroke-width="0.9"/>
<path d="M405.00,266.10 L405.00,268.20 M404.09,266.63 L405.91,267.68 M405.91,266.63 L404.09,267.68 " stroke="#000" stroke-width="0.6" fill="none"/>
<line x1="314.1" y1="309.4" x2="314.1" y2="312.2" stroke="#000" stroke-width="1"/>
<line x1="337.7" y1="309.4" x2="337.7" y2="312.2" stroke="#000" stroke-width="1"/>
<line x1="361.7" y1="309.4" x2="361.7" y2="312.2" stroke="#000" stroke-width="1"/>
<line x1="386.1" y1="309.4" x2="386.1" y2="312.2" stroke="#000" stroke-width="1"/>
<line x1="410.3" y1="309.4" x2="410.3" y2="312.2" stroke="#000" stroke-width="1"/>
<line x1="434.1" y1="309.4" x2="434.1" y2="312.2" stroke="#000" stroke-width="1"/>
<line x1="457.6" y1="309.4" x2="457.6" y2="312.2" stroke="#000" stroke-width="1"/>
<line x1="482" y1="309.4" x2="482" y2="312.2" stroke="#000" stroke-width="1"/>
<line x1="506" y1="309.4" x2="506" y2="312.2" stroke="#000" stroke-width="1"/>
<text x="312.7" y="318.3" font-size="6.2" font-weight="bold" font-style="normal" text-anchor="middle" >D16</text>
<text x="336.5" y="318.3" font-size="6.2" font-weight="bold" font-style="normal" text-anchor="middle" >D20</text>
<text x="362.5" y="318.3" font-size="6.2" font-weight="bold" font-style="normal" text-anchor="middle" >D27</text>
<text x="386" y="318.3" font-size="6.2" font-weight="bold" font-style="normal" text-anchor="middle" >D16</text>
<text x="409.8" y="318.3" font-size="6.2" font-weight="bold" font-style="normal" text-anchor="middle" >D20</text>
<text x="433.5" y="318.3" font-size="6.2" font-weight="bold" font-style="normal" text-anchor="middle" >D27</text>
<text x="457.5" y="318.3" font-size="6.2" font-weight="bold" font-style="normal" text-anchor="middle" >D16</text>
<text x="481.8" y="318.3" font-size="6.2" font-weight="bold" font-style="normal" text-anchor="middle" >D20</text>
<text x="505.8" y="318.3" font-size="6.2" font-weight="bold" font-style="normal" text-anchor="middle" >D27</text>
<line x1="296.4" y1="321.0" x2="365" y2="321.0" stroke="#000" stroke-width="1.3"/>
<line x1="367" y1="321.0" x2="433" y2="321.0" stroke="#000" stroke-width="1.3"/>
<line x1="444.4" y1="321.0" x2="510" y2="321.0" stroke="#000" stroke-width="1.3"/>
<text x="327.5" y="330.3" font-size="7.4" font-weight="bold" font-style="normal" text-anchor="middle" >Thy-B</text>
<text x="401" y="330.3" font-size="7.4" font-weight="bold" font-style="normal" text-anchor="middle" >Txy</text>
<text x="476" y="330.2" font-size="7.2" font-weight="bold" font-style="italic" text-anchor="middle" >Rag1-/-</text>
</svg></body></html>
